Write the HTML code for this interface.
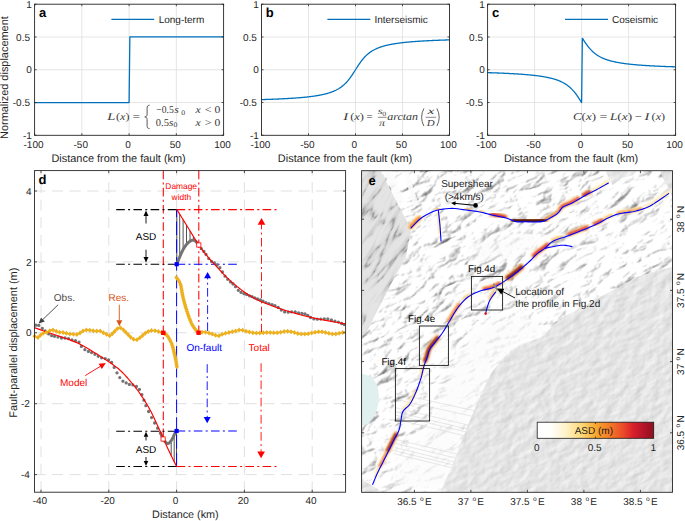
<!DOCTYPE html>
<html><head><meta charset="utf-8"><style>
html,body{margin:0;padding:0;background:#fff;width:685px;height:521px;overflow:hidden;}
svg{display:block;font-family:"Liberation Sans", sans-serif;text-rendering:geometricPrecision;}
</style></head><body>
<svg width="685" height="521" viewBox="0 0 685 521">
<rect width="685" height="521" fill="#fff"/>
<line x1="81.85" y1="4.2" x2="81.85" y2="135.3" stroke="#dedede" stroke-width="0.8" />
<line x1="129.1" y1="4.2" x2="129.1" y2="135.3" stroke="#dedede" stroke-width="0.8" />
<line x1="176.35" y1="4.2" x2="176.35" y2="135.3" stroke="#dedede" stroke-width="0.8" />
<line x1="34.6" y1="102.53" x2="223.6" y2="102.53" stroke="#dedede" stroke-width="0.8" />
<line x1="34.6" y1="69.75" x2="223.6" y2="69.75" stroke="#dedede" stroke-width="0.8" />
<line x1="34.6" y1="36.97" x2="223.6" y2="36.97" stroke="#dedede" stroke-width="0.8" />
<polyline points="34.6,102.53 129.1,102.53 129.86,36.97 223.6,36.97" stroke="#0072BD" stroke-width="1.3" fill="none" stroke-linejoin="round"/>
<line x1="111.4" y1="19.3" x2="154.2" y2="19.3" stroke="#0072BD" stroke-width="1.3" />
<text x="158.7" y="22.9" font-size="10" text-anchor="start" fill="#262626" font-weight="normal" font-style="normal" font-family='"Liberation Sans", sans-serif' >Long-term</text>
<line x1="34.6" y1="135.3" x2="34.6" y2="133.3" stroke="#262626" stroke-width="0.8" />
<line x1="34.6" y1="4.2" x2="34.6" y2="6.2" stroke="#262626" stroke-width="0.8" />
<line x1="81.85" y1="135.3" x2="81.85" y2="133.3" stroke="#262626" stroke-width="0.8" />
<line x1="81.85" y1="4.2" x2="81.85" y2="6.2" stroke="#262626" stroke-width="0.8" />
<line x1="129.1" y1="135.3" x2="129.1" y2="133.3" stroke="#262626" stroke-width="0.8" />
<line x1="129.1" y1="4.2" x2="129.1" y2="6.2" stroke="#262626" stroke-width="0.8" />
<line x1="176.35" y1="135.3" x2="176.35" y2="133.3" stroke="#262626" stroke-width="0.8" />
<line x1="176.35" y1="4.2" x2="176.35" y2="6.2" stroke="#262626" stroke-width="0.8" />
<line x1="223.6" y1="135.3" x2="223.6" y2="133.3" stroke="#262626" stroke-width="0.8" />
<line x1="223.6" y1="4.2" x2="223.6" y2="6.2" stroke="#262626" stroke-width="0.8" />
<line x1="34.6" y1="135.3" x2="36.6" y2="135.3" stroke="#262626" stroke-width="0.8" />
<line x1="223.6" y1="135.3" x2="221.6" y2="135.3" stroke="#262626" stroke-width="0.8" />
<line x1="34.6" y1="102.53" x2="36.6" y2="102.53" stroke="#262626" stroke-width="0.8" />
<line x1="223.6" y1="102.53" x2="221.6" y2="102.53" stroke="#262626" stroke-width="0.8" />
<line x1="34.6" y1="69.75" x2="36.6" y2="69.75" stroke="#262626" stroke-width="0.8" />
<line x1="223.6" y1="69.75" x2="221.6" y2="69.75" stroke="#262626" stroke-width="0.8" />
<line x1="34.6" y1="36.97" x2="36.6" y2="36.97" stroke="#262626" stroke-width="0.8" />
<line x1="223.6" y1="36.97" x2="221.6" y2="36.97" stroke="#262626" stroke-width="0.8" />
<line x1="34.6" y1="4.2" x2="36.6" y2="4.2" stroke="#262626" stroke-width="0.8" />
<line x1="223.6" y1="4.2" x2="221.6" y2="4.2" stroke="#262626" stroke-width="0.8" />
<rect x="34.6" y="4.2" width="189" height="131.1" fill="none" stroke="#262626" stroke-width="0.9"/>
<text x="31.9" y="7.8" font-size="10" text-anchor="end" fill="#262626" font-weight="normal" font-style="normal" font-family='"Liberation Sans", sans-serif' >1</text>
<text x="30" y="40.57" font-size="10" text-anchor="end" fill="#262626" font-weight="normal" font-style="normal" font-family='"Liberation Sans", sans-serif' >0.5</text>
<text x="31.9" y="73.35" font-size="10" text-anchor="end" fill="#262626" font-weight="normal" font-style="normal" font-family='"Liberation Sans", sans-serif' >0</text>
<text x="30" y="106.12" font-size="10" text-anchor="end" fill="#262626" font-weight="normal" font-style="normal" font-family='"Liberation Sans", sans-serif' >-0.5</text>
<text x="31.9" y="138.9" font-size="10" text-anchor="end" fill="#262626" font-weight="normal" font-style="normal" font-family='"Liberation Sans", sans-serif' >-1</text>
<text x="33.5" y="147.8" font-size="10" text-anchor="middle" fill="#262626" font-weight="normal" font-style="normal" font-family='"Liberation Sans", sans-serif' >-100</text>
<text x="80.75" y="147.8" font-size="10" text-anchor="middle" fill="#262626" font-weight="normal" font-style="normal" font-family='"Liberation Sans", sans-serif' >-50</text>
<text x="128" y="147.8" font-size="10" text-anchor="middle" fill="#262626" font-weight="normal" font-style="normal" font-family='"Liberation Sans", sans-serif' >0</text>
<text x="175.25" y="147.8" font-size="10" text-anchor="middle" fill="#262626" font-weight="normal" font-style="normal" font-family='"Liberation Sans", sans-serif' >50</text>
<text x="222.5" y="147.8" font-size="10" text-anchor="middle" fill="#262626" font-weight="normal" font-style="normal" font-family='"Liberation Sans", sans-serif' >100</text>
<text x="38.9" y="16.8" font-size="13" text-anchor="start" fill="#000" font-weight="bold" font-style="normal" font-family='"Liberation Sans", sans-serif' >a</text>
<text x="118.6" y="161.9" font-size="10.95" text-anchor="middle" fill="#262626" font-weight="normal" font-style="normal" font-family='"Liberation Sans", sans-serif' >Distance from the fault (km)</text>
<line x1="308.5" y1="4.2" x2="308.5" y2="135.3" stroke="#dedede" stroke-width="0.8" />
<line x1="355.5" y1="4.2" x2="355.5" y2="135.3" stroke="#dedede" stroke-width="0.8" />
<line x1="402.5" y1="4.2" x2="402.5" y2="135.3" stroke="#dedede" stroke-width="0.8" />
<line x1="261.5" y1="102.53" x2="449.5" y2="102.53" stroke="#dedede" stroke-width="0.8" />
<line x1="261.5" y1="69.75" x2="449.5" y2="69.75" stroke="#dedede" stroke-width="0.8" />
<line x1="261.5" y1="36.97" x2="449.5" y2="36.97" stroke="#dedede" stroke-width="0.8" />
<polyline points="261.5,99.62 261.97,99.61 262.44,99.59 262.91,99.58 263.38,99.56 263.85,99.55 264.32,99.53 264.79,99.52 265.26,99.5 265.73,99.49 266.2,99.47 266.67,99.46 267.14,99.44 267.61,99.42 268.08,99.41 268.55,99.39 269.02,99.37 269.49,99.36 269.96,99.34 270.43,99.32 270.9,99.31 271.37,99.29 271.84,99.27 272.31,99.25 272.78,99.23 273.25,99.21 273.72,99.2 274.19,99.18 274.66,99.16 275.13,99.14 275.6,99.12 276.07,99.1 276.54,99.08 277.01,99.06 277.48,99.04 277.95,99.02 278.42,99 278.89,98.98 279.36,98.95 279.83,98.93 280.3,98.91 280.77,98.89 281.24,98.87 281.71,98.84 282.18,98.82 282.65,98.8 283.12,98.77 283.59,98.75 284.06,98.72 284.53,98.7 285,98.67 285.47,98.65 285.94,98.62 286.41,98.6 286.88,98.57 287.35,98.54 287.82,98.52 288.29,98.49 288.76,98.46 289.23,98.43 289.7,98.41 290.17,98.38 290.64,98.35 291.11,98.32 291.58,98.29 292.05,98.26 292.52,98.23 292.99,98.2 293.46,98.16 293.93,98.13 294.4,98.1 294.87,98.07 295.34,98.03 295.81,98 296.28,97.96 296.75,97.93 297.22,97.89 297.69,97.85 298.16,97.82 298.63,97.78 299.1,97.74 299.57,97.7 300.04,97.66 300.51,97.62 300.98,97.58 301.45,97.54 301.92,97.5 302.39,97.46 302.86,97.41 303.33,97.37 303.8,97.32 304.27,97.28 304.74,97.23 305.21,97.18 305.68,97.14 306.15,97.09 306.62,97.04 307.09,96.99 307.56,96.93 308.03,96.88 308.5,96.83 308.97,96.77 309.44,96.72 309.91,96.66 310.38,96.6 310.85,96.54 311.32,96.48 311.79,96.42 312.26,96.36 312.73,96.3 313.2,96.23 313.67,96.17 314.14,96.1 314.61,96.03 315.08,95.96 315.55,95.89 316.02,95.81 316.49,95.74 316.96,95.66 317.43,95.58 317.9,95.5 318.37,95.42 318.84,95.33 319.31,95.25 319.78,95.16 320.25,95.07 320.72,94.98 321.19,94.88 321.66,94.79 322.13,94.69 322.6,94.59 323.07,94.48 323.54,94.37 324.01,94.27 324.48,94.15 324.95,94.04 325.42,93.92 325.89,93.8 326.36,93.67 326.83,93.55 327.3,93.41 327.77,93.28 328.24,93.14 328.71,93 329.18,92.85 329.65,92.7 330.12,92.54 330.59,92.38 331.06,92.22 331.53,92.05 332,91.87 332.47,91.69 332.94,91.51 333.41,91.31 333.88,91.12 334.35,90.91 334.82,90.7 335.29,90.48 335.76,90.26 336.23,90.02 336.7,89.78 337.17,89.53 337.64,89.28 338.11,89.01 338.58,88.73 339.05,88.45 339.52,88.15 339.99,87.84 340.46,87.53 340.93,87.2 341.4,86.86 341.87,86.5 342.34,86.14 342.81,85.76 343.28,85.37 343.75,84.96 344.22,84.54 344.69,84.1 345.16,83.65 345.63,83.18 346.1,82.69 346.57,82.19 347.04,81.67 347.51,81.14 347.98,80.58 348.45,80.01 348.92,79.42 349.39,78.82 349.86,78.2 350.33,77.56 350.8,76.91 351.27,76.24 351.74,75.56 352.21,74.86 352.68,74.15 353.15,73.44 353.62,72.71 354.09,71.98 354.56,71.24 355.03,70.49 355.5,69.75 355.97,69.01 356.44,68.26 356.91,67.52 357.38,66.79 357.85,66.06 358.32,65.35 358.79,64.64 359.26,63.94 359.73,63.26 360.2,62.59 360.67,61.94 361.14,61.3 361.61,60.68 362.08,60.08 362.55,59.49 363.02,58.92 363.49,58.36 363.96,57.83 364.43,57.31 364.9,56.81 365.37,56.32 365.84,55.85 366.31,55.4 366.78,54.96 367.25,54.54 367.72,54.13 368.19,53.74 368.66,53.36 369.13,53 369.6,52.64 370.07,52.3 370.54,51.97 371.01,51.66 371.48,51.35 371.95,51.05 372.42,50.77 372.89,50.49 373.36,50.22 373.83,49.97 374.3,49.72 374.77,49.48 375.24,49.24 375.71,49.02 376.18,48.8 376.65,48.59 377.12,48.38 377.59,48.19 378.06,47.99 378.53,47.81 379,47.63 379.47,47.45 379.94,47.28 380.41,47.12 380.88,46.96 381.35,46.8 381.82,46.65 382.29,46.5 382.76,46.36 383.23,46.22 383.7,46.09 384.17,45.95 384.64,45.83 385.11,45.7 385.58,45.58 386.05,45.46 386.52,45.35 386.99,45.23 387.46,45.13 387.93,45.02 388.4,44.91 388.87,44.81 389.34,44.71 389.81,44.62 390.28,44.52 390.75,44.43 391.22,44.34 391.69,44.25 392.16,44.17 392.63,44.08 393.1,44 393.57,43.92 394.04,43.84 394.51,43.76 394.98,43.69 395.45,43.61 395.92,43.54 396.39,43.47 396.86,43.4 397.33,43.33 397.8,43.27 398.27,43.2 398.74,43.14 399.21,43.08 399.68,43.02 400.15,42.96 400.62,42.9 401.09,42.84 401.56,42.78 402.03,42.73 402.5,42.67 402.97,42.62 403.44,42.57 403.91,42.51 404.38,42.46 404.85,42.41 405.32,42.36 405.79,42.32 406.26,42.27 406.73,42.22 407.2,42.18 407.67,42.13 408.14,42.09 408.61,42.04 409.08,42 409.55,41.96 410.02,41.92 410.49,41.88 410.96,41.84 411.43,41.8 411.9,41.76 412.37,41.72 412.84,41.68 413.31,41.65 413.78,41.61 414.25,41.57 414.72,41.54 415.19,41.5 415.66,41.47 416.13,41.43 416.6,41.4 417.07,41.37 417.54,41.34 418.01,41.3 418.48,41.27 418.95,41.24 419.42,41.21 419.89,41.18 420.36,41.15 420.83,41.12 421.3,41.09 421.77,41.07 422.24,41.04 422.71,41.01 423.18,40.98 423.65,40.96 424.12,40.93 424.59,40.9 425.06,40.88 425.53,40.85 426,40.83 426.47,40.8 426.94,40.78 427.41,40.75 427.88,40.73 428.35,40.7 428.82,40.68 429.29,40.66 429.76,40.63 430.23,40.61 430.7,40.59 431.17,40.57 431.64,40.55 432.11,40.52 432.58,40.5 433.05,40.48 433.52,40.46 433.99,40.44 434.46,40.42 434.93,40.4 435.4,40.38 435.87,40.36 436.34,40.34 436.81,40.32 437.28,40.3 437.75,40.29 438.22,40.27 438.69,40.25 439.16,40.23 439.63,40.21 440.1,40.19 440.57,40.18 441.04,40.16 441.51,40.14 441.98,40.13 442.45,40.11 442.92,40.09 443.39,40.08 443.86,40.06 444.33,40.04 444.8,40.03 445.27,40.01 445.74,40 446.21,39.98 446.68,39.97 447.15,39.95 447.62,39.94 448.09,39.92 448.56,39.91 449.03,39.89 449.5,39.88" stroke="#0072BD" stroke-width="1.3" fill="none" stroke-linejoin="round"/>
<line x1="327.4" y1="19.3" x2="370.4" y2="19.3" stroke="#0072BD" stroke-width="1.3" />
<text x="374.4" y="22.9" font-size="10" text-anchor="start" fill="#262626" font-weight="normal" font-style="normal" font-family='"Liberation Sans", sans-serif' >Interseismic</text>
<line x1="261.5" y1="135.3" x2="261.5" y2="133.3" stroke="#262626" stroke-width="0.8" />
<line x1="261.5" y1="4.2" x2="261.5" y2="6.2" stroke="#262626" stroke-width="0.8" />
<line x1="308.5" y1="135.3" x2="308.5" y2="133.3" stroke="#262626" stroke-width="0.8" />
<line x1="308.5" y1="4.2" x2="308.5" y2="6.2" stroke="#262626" stroke-width="0.8" />
<line x1="355.5" y1="135.3" x2="355.5" y2="133.3" stroke="#262626" stroke-width="0.8" />
<line x1="355.5" y1="4.2" x2="355.5" y2="6.2" stroke="#262626" stroke-width="0.8" />
<line x1="402.5" y1="135.3" x2="402.5" y2="133.3" stroke="#262626" stroke-width="0.8" />
<line x1="402.5" y1="4.2" x2="402.5" y2="6.2" stroke="#262626" stroke-width="0.8" />
<line x1="449.5" y1="135.3" x2="449.5" y2="133.3" stroke="#262626" stroke-width="0.8" />
<line x1="449.5" y1="4.2" x2="449.5" y2="6.2" stroke="#262626" stroke-width="0.8" />
<line x1="261.5" y1="135.3" x2="263.5" y2="135.3" stroke="#262626" stroke-width="0.8" />
<line x1="449.5" y1="135.3" x2="447.5" y2="135.3" stroke="#262626" stroke-width="0.8" />
<line x1="261.5" y1="102.53" x2="263.5" y2="102.53" stroke="#262626" stroke-width="0.8" />
<line x1="449.5" y1="102.53" x2="447.5" y2="102.53" stroke="#262626" stroke-width="0.8" />
<line x1="261.5" y1="69.75" x2="263.5" y2="69.75" stroke="#262626" stroke-width="0.8" />
<line x1="449.5" y1="69.75" x2="447.5" y2="69.75" stroke="#262626" stroke-width="0.8" />
<line x1="261.5" y1="36.97" x2="263.5" y2="36.97" stroke="#262626" stroke-width="0.8" />
<line x1="449.5" y1="36.97" x2="447.5" y2="36.97" stroke="#262626" stroke-width="0.8" />
<line x1="261.5" y1="4.2" x2="263.5" y2="4.2" stroke="#262626" stroke-width="0.8" />
<line x1="449.5" y1="4.2" x2="447.5" y2="4.2" stroke="#262626" stroke-width="0.8" />
<rect x="261.5" y="4.2" width="188" height="131.1" fill="none" stroke="#262626" stroke-width="0.9"/>
<text x="258.8" y="7.8" font-size="10" text-anchor="end" fill="#262626" font-weight="normal" font-style="normal" font-family='"Liberation Sans", sans-serif' >1</text>
<text x="256.9" y="40.57" font-size="10" text-anchor="end" fill="#262626" font-weight="normal" font-style="normal" font-family='"Liberation Sans", sans-serif' >0.5</text>
<text x="258.8" y="73.35" font-size="10" text-anchor="end" fill="#262626" font-weight="normal" font-style="normal" font-family='"Liberation Sans", sans-serif' >0</text>
<text x="256.9" y="106.12" font-size="10" text-anchor="end" fill="#262626" font-weight="normal" font-style="normal" font-family='"Liberation Sans", sans-serif' >-0.5</text>
<text x="258.8" y="138.9" font-size="10" text-anchor="end" fill="#262626" font-weight="normal" font-style="normal" font-family='"Liberation Sans", sans-serif' >-1</text>
<text x="260.4" y="147.8" font-size="10" text-anchor="middle" fill="#262626" font-weight="normal" font-style="normal" font-family='"Liberation Sans", sans-serif' >-100</text>
<text x="307.4" y="147.8" font-size="10" text-anchor="middle" fill="#262626" font-weight="normal" font-style="normal" font-family='"Liberation Sans", sans-serif' >-50</text>
<text x="354.4" y="147.8" font-size="10" text-anchor="middle" fill="#262626" font-weight="normal" font-style="normal" font-family='"Liberation Sans", sans-serif' >0</text>
<text x="401.4" y="147.8" font-size="10" text-anchor="middle" fill="#262626" font-weight="normal" font-style="normal" font-family='"Liberation Sans", sans-serif' >50</text>
<text x="448.4" y="147.8" font-size="10" text-anchor="middle" fill="#262626" font-weight="normal" font-style="normal" font-family='"Liberation Sans", sans-serif' >100</text>
<text x="265.8" y="16.8" font-size="13" text-anchor="start" fill="#000" font-weight="bold" font-style="normal" font-family='"Liberation Sans", sans-serif' >b</text>
<text x="345" y="161.9" font-size="10.95" text-anchor="middle" fill="#262626" font-weight="normal" font-style="normal" font-family='"Liberation Sans", sans-serif' >Distance from the fault (km)</text>
<line x1="534.6" y1="4.2" x2="534.6" y2="135.3" stroke="#dedede" stroke-width="0.8" />
<line x1="581.6" y1="4.2" x2="581.6" y2="135.3" stroke="#dedede" stroke-width="0.8" />
<line x1="628.6" y1="4.2" x2="628.6" y2="135.3" stroke="#dedede" stroke-width="0.8" />
<line x1="487.6" y1="102.53" x2="675.6" y2="102.53" stroke="#dedede" stroke-width="0.8" />
<line x1="487.6" y1="69.75" x2="675.6" y2="69.75" stroke="#dedede" stroke-width="0.8" />
<line x1="487.6" y1="36.97" x2="675.6" y2="36.97" stroke="#dedede" stroke-width="0.8" />
<polyline points="487.6,72.65 488.07,72.67 488.54,72.68 489.01,72.7 489.48,72.71 489.95,72.73 490.42,72.74 490.89,72.76 491.36,72.77 491.83,72.79 492.3,72.8 492.77,72.82 493.24,72.83 493.71,72.85 494.18,72.87 494.65,72.88 495.12,72.9 495.59,72.92 496.06,72.94 496.53,72.95 497,72.97 497.47,72.99 497.94,73.01 498.41,73.02 498.88,73.04 499.35,73.06 499.82,73.08 500.29,73.1 500.76,73.12 501.23,73.14 501.7,73.16 502.17,73.18 502.64,73.2 503.11,73.22 503.58,73.24 504.05,73.26 504.52,73.28 504.99,73.3 505.46,73.32 505.93,73.34 506.4,73.36 506.87,73.39 507.34,73.41 507.81,73.43 508.28,73.46 508.75,73.48 509.22,73.5 509.69,73.53 510.16,73.55 510.63,73.58 511.1,73.6 511.57,73.63 512.04,73.65 512.51,73.68 512.98,73.7 513.45,73.73 513.92,73.76 514.39,73.78 514.86,73.81 515.33,73.84 515.8,73.87 516.27,73.9 516.74,73.93 517.21,73.96 517.68,73.99 518.15,74.02 518.62,74.05 519.09,74.08 519.56,74.11 520.03,74.14 520.5,74.18 520.97,74.21 521.44,74.24 521.91,74.28 522.38,74.31 522.85,74.35 523.32,74.38 523.79,74.42 524.26,74.46 524.73,74.49 525.2,74.53 525.67,74.57 526.14,74.61 526.61,74.65 527.08,74.69 527.55,74.73 528.02,74.78 528.49,74.82 528.96,74.86 529.43,74.91 529.9,74.95 530.37,75 530.84,75.04 531.31,75.09 531.78,75.14 532.25,75.19 532.72,75.24 533.19,75.29 533.66,75.34 534.13,75.39 534.6,75.45 535.07,75.5 535.54,75.56 536.01,75.61 536.48,75.67 536.95,75.73 537.42,75.79 537.89,75.85 538.36,75.91 538.83,75.98 539.3,76.04 539.77,76.11 540.24,76.18 540.71,76.25 541.18,76.32 541.65,76.39 542.12,76.46 542.59,76.54 543.06,76.62 543.53,76.69 544,76.77 544.47,76.86 544.94,76.94 545.41,77.03 545.88,77.12 546.35,77.21 546.82,77.3 547.29,77.39 547.76,77.49 548.23,77.59 548.7,77.69 549.17,77.79 549.64,77.9 550.11,78.01 550.58,78.12 551.05,78.24 551.52,78.36 551.99,78.48 552.46,78.6 552.93,78.73 553.4,78.86 553.87,79 554.34,79.13 554.81,79.28 555.28,79.42 555.75,79.58 556.22,79.73 556.69,79.89 557.16,80.06 557.63,80.23 558.1,80.4 558.57,80.58 559.04,80.77 559.51,80.96 559.98,81.16 560.45,81.36 560.92,81.57 561.39,81.79 561.86,82.02 562.33,82.25 562.8,82.49 563.27,82.74 563.74,83 564.21,83.27 564.68,83.54 565.15,83.83 565.62,84.12 566.09,84.43 566.56,84.75 567.03,85.08 567.5,85.42 567.97,85.77 568.44,86.14 568.91,86.52 569.38,86.91 569.85,87.32 570.32,87.74 570.79,88.18 571.26,88.63 571.73,89.1 572.2,89.58 572.67,90.09 573.14,90.6 573.61,91.14 574.08,91.69 574.55,92.26 575.02,92.85 575.49,93.46 575.96,94.08 576.43,94.71 576.9,95.37 577.37,96.04 577.84,96.72 578.31,97.41 578.78,98.12 579.25,98.84 579.72,99.56 580.19,100.3 580.66,101.04 581.13,101.78 581.6,102.53 582.35,38.29 582.54,38.46 583.01,39.2 583.48,39.94 583.95,40.66 584.42,41.38 584.89,42.09 585.36,42.78 585.83,43.46 586.3,44.13 586.77,44.79 587.24,45.42 587.71,46.04 588.18,46.65 588.65,47.24 589.12,47.81 589.59,48.36 590.06,48.9 590.53,49.41 591,49.92 591.47,50.4 591.94,50.87 592.41,51.32 592.88,51.76 593.35,52.18 593.82,52.59 594.29,52.98 594.76,53.36 595.23,53.73 595.7,54.08 596.17,54.42 596.64,54.75 597.11,55.07 597.58,55.38 598.05,55.67 598.52,55.96 598.99,56.23 599.46,56.5 599.93,56.76 600.4,57.01 600.87,57.25 601.34,57.48 601.81,57.71 602.28,57.93 602.75,58.14 603.22,58.34 603.69,58.54 604.16,58.73 604.63,58.92 605.1,59.1 605.57,59.27 606.04,59.44 606.51,59.61 606.98,59.77 607.45,59.92 607.92,60.08 608.39,60.22 608.86,60.37 609.33,60.5 609.8,60.64 610.27,60.77 610.74,60.9 611.21,61.02 611.68,61.14 612.15,61.26 612.62,61.38 613.09,61.49 613.56,61.6 614.03,61.71 614.5,61.81 614.97,61.91 615.44,62.01 615.91,62.11 616.38,62.2 616.85,62.29 617.32,62.38 617.79,62.47 618.26,62.56 618.73,62.64 619.2,62.73 619.67,62.81 620.14,62.88 620.61,62.96 621.08,63.04 621.55,63.11 622.02,63.18 622.49,63.25 622.96,63.32 623.43,63.39 623.9,63.46 624.37,63.52 624.84,63.59 625.31,63.65 625.78,63.71 626.25,63.77 626.72,63.83 627.19,63.89 627.66,63.94 628.13,64 628.6,64.05 629.07,64.11 629.54,64.16 630.01,64.21 630.48,64.26 630.95,64.31 631.42,64.36 631.89,64.41 632.36,64.46 632.83,64.5 633.3,64.55 633.77,64.59 634.24,64.64 634.71,64.68 635.18,64.72 635.65,64.77 636.12,64.81 636.59,64.85 637.06,64.89 637.53,64.93 638,64.97 638.47,65.01 638.94,65.04 639.41,65.08 639.88,65.12 640.35,65.15 640.82,65.19 641.29,65.22 641.76,65.26 642.23,65.29 642.7,65.32 643.17,65.36 643.64,65.39 644.11,65.42 644.58,65.45 645.05,65.48 645.52,65.51 645.99,65.54 646.46,65.57 646.93,65.6 647.4,65.63 647.87,65.66 648.34,65.69 648.81,65.72 649.28,65.74 649.75,65.77 650.22,65.8 650.69,65.82 651.16,65.85 651.63,65.87 652.1,65.9 652.57,65.92 653.04,65.95 653.51,65.97 653.98,66 654.45,66.02 654.92,66.04 655.39,66.07 655.86,66.09 656.33,66.11 656.8,66.14 657.27,66.16 657.74,66.18 658.21,66.2 658.68,66.22 659.15,66.24 659.62,66.26 660.09,66.28 660.56,66.3 661.03,66.32 661.5,66.34 661.97,66.36 662.44,66.38 662.91,66.4 663.38,66.42 663.85,66.44 664.32,66.46 664.79,66.48 665.26,66.49 665.73,66.51 666.2,66.53 666.67,66.55 667.14,66.56 667.61,66.58 668.08,66.6 668.55,66.62 669.02,66.63 669.49,66.65 669.96,66.67 670.43,66.68 670.9,66.7 671.37,66.71 671.84,66.73 672.31,66.74 672.78,66.76 673.25,66.77 673.72,66.79 674.19,66.8 674.66,66.82 675.13,66.83 675.6,66.85" stroke="#0072BD" stroke-width="1.3" fill="none" stroke-linejoin="round"/>
<line x1="565" y1="19.3" x2="608" y2="19.3" stroke="#0072BD" stroke-width="1.3" />
<text x="612" y="22.9" font-size="10" text-anchor="start" fill="#262626" font-weight="normal" font-style="normal" font-family='"Liberation Sans", sans-serif' >Coseismic</text>
<line x1="487.6" y1="135.3" x2="487.6" y2="133.3" stroke="#262626" stroke-width="0.8" />
<line x1="487.6" y1="4.2" x2="487.6" y2="6.2" stroke="#262626" stroke-width="0.8" />
<line x1="534.6" y1="135.3" x2="534.6" y2="133.3" stroke="#262626" stroke-width="0.8" />
<line x1="534.6" y1="4.2" x2="534.6" y2="6.2" stroke="#262626" stroke-width="0.8" />
<line x1="581.6" y1="135.3" x2="581.6" y2="133.3" stroke="#262626" stroke-width="0.8" />
<line x1="581.6" y1="4.2" x2="581.6" y2="6.2" stroke="#262626" stroke-width="0.8" />
<line x1="628.6" y1="135.3" x2="628.6" y2="133.3" stroke="#262626" stroke-width="0.8" />
<line x1="628.6" y1="4.2" x2="628.6" y2="6.2" stroke="#262626" stroke-width="0.8" />
<line x1="675.6" y1="135.3" x2="675.6" y2="133.3" stroke="#262626" stroke-width="0.8" />
<line x1="675.6" y1="4.2" x2="675.6" y2="6.2" stroke="#262626" stroke-width="0.8" />
<line x1="487.6" y1="135.3" x2="489.6" y2="135.3" stroke="#262626" stroke-width="0.8" />
<line x1="675.6" y1="135.3" x2="673.6" y2="135.3" stroke="#262626" stroke-width="0.8" />
<line x1="487.6" y1="102.53" x2="489.6" y2="102.53" stroke="#262626" stroke-width="0.8" />
<line x1="675.6" y1="102.53" x2="673.6" y2="102.53" stroke="#262626" stroke-width="0.8" />
<line x1="487.6" y1="69.75" x2="489.6" y2="69.75" stroke="#262626" stroke-width="0.8" />
<line x1="675.6" y1="69.75" x2="673.6" y2="69.75" stroke="#262626" stroke-width="0.8" />
<line x1="487.6" y1="36.97" x2="489.6" y2="36.97" stroke="#262626" stroke-width="0.8" />
<line x1="675.6" y1="36.97" x2="673.6" y2="36.97" stroke="#262626" stroke-width="0.8" />
<line x1="487.6" y1="4.2" x2="489.6" y2="4.2" stroke="#262626" stroke-width="0.8" />
<line x1="675.6" y1="4.2" x2="673.6" y2="4.2" stroke="#262626" stroke-width="0.8" />
<rect x="487.6" y="4.2" width="188" height="131.1" fill="none" stroke="#262626" stroke-width="0.9"/>
<text x="484.9" y="7.8" font-size="10" text-anchor="end" fill="#262626" font-weight="normal" font-style="normal" font-family='"Liberation Sans", sans-serif' >1</text>
<text x="483" y="40.57" font-size="10" text-anchor="end" fill="#262626" font-weight="normal" font-style="normal" font-family='"Liberation Sans", sans-serif' >0.5</text>
<text x="484.9" y="73.35" font-size="10" text-anchor="end" fill="#262626" font-weight="normal" font-style="normal" font-family='"Liberation Sans", sans-serif' >0</text>
<text x="483" y="106.12" font-size="10" text-anchor="end" fill="#262626" font-weight="normal" font-style="normal" font-family='"Liberation Sans", sans-serif' >-0.5</text>
<text x="484.9" y="138.9" font-size="10" text-anchor="end" fill="#262626" font-weight="normal" font-style="normal" font-family='"Liberation Sans", sans-serif' >-1</text>
<text x="486.5" y="147.8" font-size="10" text-anchor="middle" fill="#262626" font-weight="normal" font-style="normal" font-family='"Liberation Sans", sans-serif' >-100</text>
<text x="533.5" y="147.8" font-size="10" text-anchor="middle" fill="#262626" font-weight="normal" font-style="normal" font-family='"Liberation Sans", sans-serif' >-50</text>
<text x="580.5" y="147.8" font-size="10" text-anchor="middle" fill="#262626" font-weight="normal" font-style="normal" font-family='"Liberation Sans", sans-serif' >0</text>
<text x="627.5" y="147.8" font-size="10" text-anchor="middle" fill="#262626" font-weight="normal" font-style="normal" font-family='"Liberation Sans", sans-serif' >50</text>
<text x="674.5" y="147.8" font-size="10" text-anchor="middle" fill="#262626" font-weight="normal" font-style="normal" font-family='"Liberation Sans", sans-serif' >100</text>
<text x="491.9" y="16.8" font-size="13" text-anchor="start" fill="#000" font-weight="bold" font-style="normal" font-family='"Liberation Sans", sans-serif' >c</text>
<text x="571.1" y="161.9" font-size="10.95" text-anchor="middle" fill="#262626" font-weight="normal" font-style="normal" font-family='"Liberation Sans", sans-serif' >Distance from the fault (km)</text>
<text x="8.4" y="77.6" font-size="10.95" text-anchor="middle" fill="#262626" font-weight="normal" font-style="normal" font-family='"Liberation Sans", sans-serif' transform="rotate(-90 8.4 77.6)" >Normalized displacement</text>
<text x="107.3" y="120" font-size="10.5" font-style="italic" fill="#3a3a3a" font-family='"Liberation Serif", serif' textLength="8.1" lengthAdjust="spacingAndGlyphs">L</text>
<text x="116.1" y="120" font-size="10.5" font-style="normal" fill="#3a3a3a" font-family='"Liberation Serif", serif' textLength="13.4" lengthAdjust="spacingAndGlyphs">(<tspan font-style="italic">x</tspan>)</text>
<text x="132.6" y="120" font-size="10.5" font-style="normal" fill="#3a3a3a" font-family='"Liberation Serif", serif' textLength="7.6" lengthAdjust="spacingAndGlyphs">=</text>
<path d="M149.6 105.2 C147.4 105.4 147.1 106.4 147.1 108.2 L147.1 114.2 C147.1 116 146.3 116.8 144.8 116.9 C146.3 117.0 147.1 117.8 147.1 119.6 L147.1 125.6 C147.1 127.4 147.4 128.4 149.6 128.6" fill="none" stroke="#3a3a3a" stroke-width="0.85"/>
<text x="156.3" y="113.4" font-size="10.5" font-style="normal" fill="#3a3a3a" font-family='"Liberation Serif", serif' textLength="17.5" lengthAdjust="spacingAndGlyphs">&#8722;0.5</text>
<text x="174.2" y="113.4" font-size="10.5" font-style="italic" fill="#3a3a3a" font-family='"Liberation Serif", serif' textLength="4.6" lengthAdjust="spacingAndGlyphs">s</text>
<text x="181.3" y="114.9" font-size="7" font-style="normal" fill="#3a3a3a" font-family='"Liberation Serif", serif' textLength="3.9" lengthAdjust="spacingAndGlyphs">0</text>
<text x="195.6" y="113.4" font-size="10.5" font-style="italic" fill="#3a3a3a" font-family='"Liberation Serif", serif' textLength="5.2" lengthAdjust="spacingAndGlyphs">x</text>
<text x="204.8" y="113.4" font-size="10.5" font-style="normal" fill="#3a3a3a" font-family='"Liberation Serif", serif' textLength="6.8" lengthAdjust="spacingAndGlyphs">&lt;</text>
<text x="214.5" y="113.4" font-size="10.5" font-style="normal" fill="#3a3a3a" font-family='"Liberation Serif", serif' textLength="5.8" lengthAdjust="spacingAndGlyphs">0</text>
<text x="155.8" y="125.5" font-size="10.5" font-style="normal" fill="#3a3a3a" font-family='"Liberation Serif", serif' textLength="13.1" lengthAdjust="spacingAndGlyphs">0.5</text>
<text x="169.1" y="125.5" font-size="10.5" font-style="italic" fill="#3a3a3a" font-family='"Liberation Serif", serif' textLength="4.4" lengthAdjust="spacingAndGlyphs">s</text>
<text x="173.4" y="127" font-size="7" font-style="normal" fill="#3a3a3a" font-family='"Liberation Serif", serif' textLength="3.9" lengthAdjust="spacingAndGlyphs">0</text>
<text x="195.6" y="125.5" font-size="10.5" font-style="italic" fill="#3a3a3a" font-family='"Liberation Serif", serif' textLength="5.2" lengthAdjust="spacingAndGlyphs">x</text>
<text x="204.8" y="125.5" font-size="10.5" font-style="normal" fill="#3a3a3a" font-family='"Liberation Serif", serif' textLength="6.8" lengthAdjust="spacingAndGlyphs">&gt;</text>
<text x="214.5" y="125.5" font-size="10.5" font-style="normal" fill="#3a3a3a" font-family='"Liberation Serif", serif' textLength="5.8" lengthAdjust="spacingAndGlyphs">0</text>
<text x="343.3" y="119.7" font-size="10.5" font-style="italic" fill="#3a3a3a" font-family='"Liberation Serif", serif' textLength="5" lengthAdjust="spacingAndGlyphs">I</text>
<text x="350.2" y="119.7" font-size="10.5" font-style="normal" fill="#3a3a3a" font-family='"Liberation Serif", serif' textLength="13.8" lengthAdjust="spacingAndGlyphs">(<tspan font-style="italic">x</tspan>)</text>
<text x="366.6" y="119.7" font-size="10.5" font-style="normal" fill="#3a3a3a" font-family='"Liberation Serif", serif' textLength="6.2" lengthAdjust="spacingAndGlyphs">=</text>
<text x="377.8" y="114.2" font-size="9" font-style="italic" fill="#3a3a3a" font-family='"Liberation Serif", serif' textLength="4.9" lengthAdjust="spacingAndGlyphs">s</text>
<text x="382.3" y="115.6" font-size="6.5" font-style="normal" fill="#3a3a3a" font-family='"Liberation Serif", serif' textLength="4" lengthAdjust="spacingAndGlyphs">0</text>
<line x1="377.8" y1="117.3" x2="386.6" y2="117.3" stroke="#3a3a3a" stroke-width="0.6" />
<text x="379.1" y="126.1" font-size="9.5" font-style="italic" fill="#3a3a3a" font-family='"Liberation Serif", serif' textLength="6.1" lengthAdjust="spacingAndGlyphs">&#960;</text>
<text x="387.2" y="119.7" font-size="10.5" font-style="italic" fill="#3a3a3a" font-family='"Liberation Serif", serif' textLength="30.9" lengthAdjust="spacingAndGlyphs">arctan</text>
<path d="M423.9 108.4 Q419.3 117.25 423.9 126.1" fill="none" stroke="#3a3a3a" stroke-width="0.8"/>
<path d="M436.9 108.4 Q441.5 117.25 436.9 126.1" fill="none" stroke="#3a3a3a" stroke-width="0.8"/>
<text x="427.6" y="114.4" font-size="9.5" font-style="italic" fill="#3a3a3a" font-family='"Liberation Serif", serif' textLength="6.9" lengthAdjust="spacingAndGlyphs">x</text>
<line x1="425.5" y1="117.3" x2="436.1" y2="117.3" stroke="#3a3a3a" stroke-width="0.6" />
<text x="426.8" y="126.1" font-size="9" font-style="italic" fill="#3a3a3a" font-family='"Liberation Serif", serif' textLength="7.9" lengthAdjust="spacingAndGlyphs">D</text>
<text x="572.9" y="120.2" font-size="10.5" font-style="italic" fill="#3a3a3a" font-family='"Liberation Serif", serif' textLength="8.7" lengthAdjust="spacingAndGlyphs">C</text>
<text x="581.6" y="120.2" font-size="10.5" font-style="normal" fill="#3a3a3a" font-family='"Liberation Serif", serif' textLength="14.4" lengthAdjust="spacingAndGlyphs">(<tspan font-style="italic">x</tspan>)</text>
<text x="599.4" y="120.2" font-size="10.5" font-style="normal" fill="#3a3a3a" font-family='"Liberation Serif", serif' textLength="7.9" lengthAdjust="spacingAndGlyphs">=</text>
<text x="609.9" y="120.2" font-size="10.5" font-style="italic" fill="#3a3a3a" font-family='"Liberation Serif", serif' textLength="7.4" lengthAdjust="spacingAndGlyphs">L</text>
<text x="617.3" y="120.2" font-size="10.5" font-style="normal" fill="#3a3a3a" font-family='"Liberation Serif", serif' textLength="14.8" lengthAdjust="spacingAndGlyphs">(<tspan font-style="italic">x</tspan>)</text>
<text x="634.7" y="120.2" font-size="10.5" font-style="normal" fill="#3a3a3a" font-family='"Liberation Serif", serif' textLength="7.1" lengthAdjust="spacingAndGlyphs">&#8722;</text>
<text x="644.4" y="120.2" font-size="10.5" font-style="italic" fill="#3a3a3a" font-family='"Liberation Serif", serif' textLength="4.9" lengthAdjust="spacingAndGlyphs">I</text>
<text x="651.6" y="120.2" font-size="10.5" font-style="normal" fill="#3a3a3a" font-family='"Liberation Serif", serif' textLength="13.5" lengthAdjust="spacingAndGlyphs">(<tspan font-style="italic">x</tspan>)</text>
<line x1="41" y1="492.2" x2="41" y2="170.6" stroke="#dcdcdc" stroke-width="0.9" stroke-dasharray="11 6.6" />
<line x1="108.8" y1="492.2" x2="108.8" y2="170.6" stroke="#dcdcdc" stroke-width="0.9" stroke-dasharray="11 6.6" />
<line x1="176.6" y1="492.2" x2="176.6" y2="170.6" stroke="#dcdcdc" stroke-width="0.9" stroke-dasharray="11 6.6" />
<line x1="244.4" y1="492.2" x2="244.4" y2="170.6" stroke="#dcdcdc" stroke-width="0.9" stroke-dasharray="11 6.6" />
<line x1="312.2" y1="492.2" x2="312.2" y2="170.6" stroke="#dcdcdc" stroke-width="0.9" stroke-dasharray="11 6.6" />
<line x1="34.5" y1="474.6" x2="345.6" y2="474.6" stroke="#dcdcdc" stroke-width="0.9" stroke-dasharray="11 6.6" />
<line x1="34.5" y1="403.7" x2="345.6" y2="403.7" stroke="#dcdcdc" stroke-width="0.9" stroke-dasharray="11 6.6" />
<line x1="34.5" y1="332.8" x2="345.6" y2="332.8" stroke="#dcdcdc" stroke-width="0.9" stroke-dasharray="11 6.6" />
<line x1="34.5" y1="261.9" x2="345.6" y2="261.9" stroke="#dcdcdc" stroke-width="0.9" stroke-dasharray="11 6.6" />
<line x1="34.5" y1="191" x2="345.6" y2="191" stroke="#dcdcdc" stroke-width="0.9" stroke-dasharray="11 6.6" />
<line x1="163.3" y1="170.6" x2="163.3" y2="437" stroke="#ff0000" stroke-width="1.05" stroke-dasharray="8.6 3.3 2 3.3" />
<line x1="198.8" y1="170.6" x2="198.8" y2="331" stroke="#ff0000" stroke-width="1.05" stroke-dasharray="8.6 3.3 2 3.3" />
<line x1="116.2" y1="209.6" x2="176.6" y2="209.6" stroke="#000" stroke-width="1.05" stroke-dasharray="8.6 3.3 2 3.3" />
<line x1="116.2" y1="264.3" x2="176.6" y2="264.3" stroke="#000" stroke-width="1.05" stroke-dasharray="8.6 3.3 2 3.3" />
<line x1="116.2" y1="431.2" x2="176.6" y2="431.2" stroke="#000" stroke-width="1.05" stroke-dasharray="8.6 3.3 2 3.3" />
<line x1="116.2" y1="466.4" x2="176.6" y2="466.4" stroke="#000" stroke-width="1.05" stroke-dasharray="8.6 3.3 2 3.3" />
<line x1="176.6" y1="209.6" x2="278.8" y2="209.6" stroke="#ff0000" stroke-width="1.05" stroke-dasharray="8.6 3.3 2 3.3" />
<line x1="176.6" y1="466.4" x2="278.8" y2="466.4" stroke="#ff0000" stroke-width="1.05" stroke-dasharray="8.6 3.3 2 3.3" />
<line x1="176.6" y1="264.3" x2="237.5" y2="264.3" stroke="#0000ff" stroke-width="1.05" stroke-dasharray="8.6 3.3 2 3.3" />
<line x1="176.6" y1="431" x2="238" y2="431" stroke="#0000ff" stroke-width="1.05" stroke-dasharray="8.6 3.3 2 3.3" />
<line x1="146" y1="223.5" x2="146" y2="215.6" stroke="#000" stroke-width="0.9" />
<polygon points="146,210.6 148.5,216.1 143.5,216.1" fill="#000"/>
<line x1="146" y1="249.7" x2="146" y2="257.6" stroke="#000" stroke-width="0.9" />
<polygon points="146,262.6 143.5,257.1 148.5,257.1" fill="#000"/>
<line x1="146" y1="440.5" x2="146" y2="436.3" stroke="#000" stroke-width="0.9" />
<polygon points="146,431.8 148.3,436.8 143.7,436.8" fill="#000"/>
<line x1="146" y1="457" x2="146" y2="461.4" stroke="#000" stroke-width="0.9" />
<polygon points="146,465.9 143.7,460.9 148.3,460.9" fill="#000"/>
<text x="146" y="240.2" font-size="10" text-anchor="middle" fill="#000" font-weight="normal" font-style="normal" font-family='"Liberation Sans", sans-serif' >ASD</text>
<text x="146" y="452.7" font-size="10" text-anchor="middle" fill="#000" font-weight="normal" font-style="normal" font-family='"Liberation Sans", sans-serif' >ASD</text>
<line x1="207.6" y1="331" x2="207.6" y2="277.7" stroke="#0000ff" stroke-width="0.9" stroke-dasharray="8.6 3.3 2 3.3" />
<polygon points="207.6,271.9 211.1,278.2 204.1,278.2" fill="#0000ff"/>
<line x1="207.2" y1="364.2" x2="207.2" y2="417.4" stroke="#0000ff" stroke-width="0.9" stroke-dasharray="8.6 3.3 2 3.3" />
<polygon points="207.2,423.2 203.7,416.9 210.7,416.9" fill="#0000ff"/>
<line x1="261.5" y1="332.5" x2="261.5" y2="224.3" stroke="#ff0000" stroke-width="0.9" stroke-dasharray="8.6 3.3 2 3.3" />
<polygon points="261.5,218 265.3,224.8 257.7,224.8" fill="#ff0000"/>
<line x1="261.1" y1="363.3" x2="261.1" y2="451.9" stroke="#ff0000" stroke-width="0.9" stroke-dasharray="8.6 3.3 2 3.3" />
<polygon points="261.1,458.2 257.3,451.4 264.9,451.4" fill="#ff0000"/>
<text x="186.4" y="351" font-size="10" text-anchor="start" fill="#0000ff" font-weight="normal" font-style="normal" font-family='"Liberation Sans", sans-serif' >On-fault</text>
<text x="248.6" y="351" font-size="10" text-anchor="start" fill="#ff0000" font-weight="normal" font-style="normal" font-family='"Liberation Sans", sans-serif' >Total</text>
<text x="181.2" y="189.2" font-size="8.4" text-anchor="middle" fill="#ff0000" font-weight="normal" font-style="normal" font-family='"Liberation Sans", sans-serif' >Damage</text>
<text x="181.4" y="199.6" font-size="8.4" text-anchor="middle" fill="#ff0000" font-weight="normal" font-style="normal" font-family='"Liberation Sans", sans-serif' >width</text>
<line x1="176.8" y1="209.5" x2="176.8" y2="263.7" stroke="#1a1a1a" stroke-width="0.75" />
<line x1="179.7" y1="214.18" x2="179.7" y2="256.99" stroke="#1a1a1a" stroke-width="0.75" />
<line x1="183.1" y1="219.67" x2="183.1" y2="249.7" stroke="#1a1a1a" stroke-width="0.75" />
<line x1="186.5" y1="225.15" x2="186.5" y2="244.5" stroke="#1a1a1a" stroke-width="0.75" />
<line x1="190" y1="230.8" x2="190" y2="241.33" stroke="#1a1a1a" stroke-width="0.75" />
<line x1="193.4" y1="236.29" x2="193.4" y2="240.37" stroke="#1a1a1a" stroke-width="0.75" />
<line x1="171.2" y1="440.36" x2="171.2" y2="455.6" stroke="#1a1a1a" stroke-width="0.75" />
<line x1="174.2" y1="434.86" x2="174.2" y2="461.6" stroke="#1a1a1a" stroke-width="0.75" />
<line x1="176.5" y1="431" x2="176.5" y2="466.4" stroke="#1a1a1a" stroke-width="0.75" />
<line x1="176.6" y1="466.4" x2="176.6" y2="209.6" stroke="#0000ff" stroke-width="1.0" stroke-dasharray="13.5 4.3" />
<path d="M34.15 325.2a1.65 1.65 0 1 0 3.3 0a1.65 1.65 0 1 0 -3.3 0zM37.15 325.4a1.65 1.65 0 1 0 3.3 0a1.65 1.65 0 1 0 -3.3 0zM40.65 328.4a1.65 1.65 0 1 0 3.3 0a1.65 1.65 0 1 0 -3.3 0zM43.55 331a1.65 1.65 0 1 0 3.3 0a1.65 1.65 0 1 0 -3.3 0zM47.05 333.9a1.65 1.65 0 1 0 3.3 0a1.65 1.65 0 1 0 -3.3 0zM49.95 335.7a1.65 1.65 0 1 0 3.3 0a1.65 1.65 0 1 0 -3.3 0zM52.85 336.3a1.65 1.65 0 1 0 3.3 0a1.65 1.65 0 1 0 -3.3 0zM56.35 337.1a1.65 1.65 0 1 0 3.3 0a1.65 1.65 0 1 0 -3.3 0zM59.85 338a1.65 1.65 0 1 0 3.3 0a1.65 1.65 0 1 0 -3.3 0zM63.35 338a1.65 1.65 0 1 0 3.3 0a1.65 1.65 0 1 0 -3.3 0zM66.85 338.6a1.65 1.65 0 1 0 3.3 0a1.65 1.65 0 1 0 -3.3 0zM70.35 339.8a1.65 1.65 0 1 0 3.3 0a1.65 1.65 0 1 0 -3.3 0zM73.85 340.6a1.65 1.65 0 1 0 3.3 0a1.65 1.65 0 1 0 -3.3 0zM77.35 342.1a1.65 1.65 0 1 0 3.3 0a1.65 1.65 0 1 0 -3.3 0zM79.75 346.4a1.65 1.65 0 1 0 3.3 0a1.65 1.65 0 1 0 -3.3 0zM83.25 349.7a1.65 1.65 0 1 0 3.3 0a1.65 1.65 0 1 0 -3.3 0zM86.75 351.4a1.65 1.65 0 1 0 3.3 0a1.65 1.65 0 1 0 -3.3 0zM89.95 352.6a1.65 1.65 0 1 0 3.3 0a1.65 1.65 0 1 0 -3.3 0zM93.25 354.3a1.65 1.65 0 1 0 3.3 0a1.65 1.65 0 1 0 -3.3 0zM96.55 356.3a1.65 1.65 0 1 0 3.3 0a1.65 1.65 0 1 0 -3.3 0zM99.95 357.8a1.65 1.65 0 1 0 3.3 0a1.65 1.65 0 1 0 -3.3 0zM103.55 358.6a1.65 1.65 0 1 0 3.3 0a1.65 1.65 0 1 0 -3.3 0zM106.95 359.8a1.65 1.65 0 1 0 3.3 0a1.65 1.65 0 1 0 -3.3 0zM109.95 362.4a1.65 1.65 0 1 0 3.3 0a1.65 1.65 0 1 0 -3.3 0zM112.55 367.4a1.65 1.65 0 1 0 3.3 0a1.65 1.65 0 1 0 -3.3 0zM115.35 372.8a1.65 1.65 0 1 0 3.3 0a1.65 1.65 0 1 0 -3.3 0zM118.15 377.6a1.65 1.65 0 1 0 3.3 0a1.65 1.65 0 1 0 -3.3 0zM121.25 381.2a1.65 1.65 0 1 0 3.3 0a1.65 1.65 0 1 0 -3.3 0zM124.55 382.9a1.65 1.65 0 1 0 3.3 0a1.65 1.65 0 1 0 -3.3 0zM127.75 384.4a1.65 1.65 0 1 0 3.3 0a1.65 1.65 0 1 0 -3.3 0zM131.25 384.9a1.65 1.65 0 1 0 3.3 0a1.65 1.65 0 1 0 -3.3 0zM134.75 386.5a1.65 1.65 0 1 0 3.3 0a1.65 1.65 0 1 0 -3.3 0zM137.75 389.4a1.65 1.65 0 1 0 3.3 0a1.65 1.65 0 1 0 -3.3 0zM140.25 394.6a1.65 1.65 0 1 0 3.3 0a1.65 1.65 0 1 0 -3.3 0zM142.25 400.2a1.65 1.65 0 1 0 3.3 0a1.65 1.65 0 1 0 -3.3 0zM144.25 405.7a1.65 1.65 0 1 0 3.3 0a1.65 1.65 0 1 0 -3.3 0zM146.95 411.5a1.65 1.65 0 1 0 3.3 0a1.65 1.65 0 1 0 -3.3 0zM149.95 417.6a1.65 1.65 0 1 0 3.3 0a1.65 1.65 0 1 0 -3.3 0zM152.95 423a1.65 1.65 0 1 0 3.3 0a1.65 1.65 0 1 0 -3.3 0zM155.95 428.2a1.65 1.65 0 1 0 3.3 0a1.65 1.65 0 1 0 -3.3 0zM158.75 433a1.65 1.65 0 1 0 3.3 0a1.65 1.65 0 1 0 -3.3 0zM199.65 248.7a1.65 1.65 0 1 0 3.3 0a1.65 1.65 0 1 0 -3.3 0zM202.25 251.5a1.65 1.65 0 1 0 3.3 0a1.65 1.65 0 1 0 -3.3 0zM204.35 254.4a1.65 1.65 0 1 0 3.3 0a1.65 1.65 0 1 0 -3.3 0zM207.05 258.6a1.65 1.65 0 1 0 3.3 0a1.65 1.65 0 1 0 -3.3 0zM209.85 261.4a1.65 1.65 0 1 0 3.3 0a1.65 1.65 0 1 0 -3.3 0zM212.75 262.9a1.65 1.65 0 1 0 3.3 0a1.65 1.65 0 1 0 -3.3 0zM215.55 265a1.65 1.65 0 1 0 3.3 0a1.65 1.65 0 1 0 -3.3 0zM218.25 267.7a1.65 1.65 0 1 0 3.3 0a1.65 1.65 0 1 0 -3.3 0zM220.75 272a1.65 1.65 0 1 0 3.3 0a1.65 1.65 0 1 0 -3.3 0zM223.35 276.2a1.65 1.65 0 1 0 3.3 0a1.65 1.65 0 1 0 -3.3 0zM226.05 279.3a1.65 1.65 0 1 0 3.3 0a1.65 1.65 0 1 0 -3.3 0zM228.85 281.9a1.65 1.65 0 1 0 3.3 0a1.65 1.65 0 1 0 -3.3 0zM231.35 284a1.65 1.65 0 1 0 3.3 0a1.65 1.65 0 1 0 -3.3 0zM233.85 286.7a1.65 1.65 0 1 0 3.3 0a1.65 1.65 0 1 0 -3.3 0zM236.65 290.3a1.65 1.65 0 1 0 3.3 0a1.65 1.65 0 1 0 -3.3 0zM239.35 292.4a1.65 1.65 0 1 0 3.3 0a1.65 1.65 0 1 0 -3.3 0zM242.35 293.7a1.65 1.65 0 1 0 3.3 0a1.65 1.65 0 1 0 -3.3 0zM245.05 294.5a1.65 1.65 0 1 0 3.3 0a1.65 1.65 0 1 0 -3.3 0zM247.85 295.8a1.65 1.65 0 1 0 3.3 0a1.65 1.65 0 1 0 -3.3 0zM250.35 296.7a1.65 1.65 0 1 0 3.3 0a1.65 1.65 0 1 0 -3.3 0zM253.05 297.9a1.65 1.65 0 1 0 3.3 0a1.65 1.65 0 1 0 -3.3 0zM255.85 299a1.65 1.65 0 1 0 3.3 0a1.65 1.65 0 1 0 -3.3 0zM258.75 299.8a1.65 1.65 0 1 0 3.3 0a1.65 1.65 0 1 0 -3.3 0zM261.35 301.1a1.65 1.65 0 1 0 3.3 0a1.65 1.65 0 1 0 -3.3 0zM264.25 302.6a1.65 1.65 0 1 0 3.3 0a1.65 1.65 0 1 0 -3.3 0zM267.25 303.6a1.65 1.65 0 1 0 3.3 0a1.65 1.65 0 1 0 -3.3 0zM270.35 304.7a1.65 1.65 0 1 0 3.3 0a1.65 1.65 0 1 0 -3.3 0zM273.35 305.7a1.65 1.65 0 1 0 3.3 0a1.65 1.65 0 1 0 -3.3 0zM276.55 307.5a1.65 1.65 0 1 0 3.3 0a1.65 1.65 0 1 0 -3.3 0zM279.65 310a1.65 1.65 0 1 0 3.3 0a1.65 1.65 0 1 0 -3.3 0zM282.95 311.9a1.65 1.65 0 1 0 3.3 0a1.65 1.65 0 1 0 -3.3 0zM286.55 312.2a1.65 1.65 0 1 0 3.3 0a1.65 1.65 0 1 0 -3.3 0zM290.05 311.9a1.65 1.65 0 1 0 3.3 0a1.65 1.65 0 1 0 -3.3 0zM293.55 311.9a1.65 1.65 0 1 0 3.3 0a1.65 1.65 0 1 0 -3.3 0zM296.95 312.8a1.65 1.65 0 1 0 3.3 0a1.65 1.65 0 1 0 -3.3 0zM300.25 313.4a1.65 1.65 0 1 0 3.3 0a1.65 1.65 0 1 0 -3.3 0zM303.35 314a1.65 1.65 0 1 0 3.3 0a1.65 1.65 0 1 0 -3.3 0zM306.15 315.4a1.65 1.65 0 1 0 3.3 0a1.65 1.65 0 1 0 -3.3 0zM308.95 317.5a1.65 1.65 0 1 0 3.3 0a1.65 1.65 0 1 0 -3.3 0zM312.15 318.9a1.65 1.65 0 1 0 3.3 0a1.65 1.65 0 1 0 -3.3 0zM315.65 319.2a1.65 1.65 0 1 0 3.3 0a1.65 1.65 0 1 0 -3.3 0zM319.15 319.1a1.65 1.65 0 1 0 3.3 0a1.65 1.65 0 1 0 -3.3 0zM322.65 318.8a1.65 1.65 0 1 0 3.3 0a1.65 1.65 0 1 0 -3.3 0zM326.15 318.9a1.65 1.65 0 1 0 3.3 0a1.65 1.65 0 1 0 -3.3 0zM329.75 320a1.65 1.65 0 1 0 3.3 0a1.65 1.65 0 1 0 -3.3 0zM333.25 321.2a1.65 1.65 0 1 0 3.3 0a1.65 1.65 0 1 0 -3.3 0zM336.75 322.1a1.65 1.65 0 1 0 3.3 0a1.65 1.65 0 1 0 -3.3 0zM339.95 323.5a1.65 1.65 0 1 0 3.3 0a1.65 1.65 0 1 0 -3.3 0zM342.55 324.6a1.65 1.65 0 1 0 3.3 0a1.65 1.65 0 1 0 -3.3 0z" fill="#737373"/>
<polyline points="161.1,434.3 161.32,434.83 161.61,435.59 161.96,436.48 162.34,437.4 162.73,438.27 163.1,439 163.45,439.59 163.81,440.11 164.17,440.59 164.54,441.02 164.91,441.42 165.3,441.8 165.7,442.19 166.11,442.57 166.53,442.93 166.96,443.23 167.38,443.43 167.8,443.5 168.22,443.44 168.63,443.27 169.05,443.01 169.47,442.66 169.88,442.26 170.3,441.8 170.72,441.27 171.15,440.64 171.58,439.96 172,439.23 172.41,438.5 172.8,437.8 173.17,437.09 173.51,436.36 173.85,435.61 174.17,434.89 174.49,434.21 174.8,433.6 175.12,433.04 175.45,432.52 175.78,432.04 176.07,431.61 176.32,431.26 176.5,431" stroke="#737373" stroke-width="3.0" fill="none" stroke-linecap="round" stroke-linejoin="round"/>
<polyline points="176.8,263.7 177.01,263.21 177.31,262.54 177.66,261.74 178.04,260.86 178.43,259.97 178.8,259.1 179.17,258.24 179.54,257.33 179.93,256.4 180.32,255.47 180.71,254.56 181.1,253.7 181.47,252.89 181.84,252.11 182.2,251.35 182.57,250.6 182.97,249.86 183.4,249.1 183.87,248.31 184.37,247.51 184.9,246.7 185.44,245.91 185.97,245.17 186.5,244.5 187.02,243.89 187.54,243.32 188.06,242.79 188.57,242.31 189.09,241.88 189.6,241.5 190.11,241.16 190.63,240.87 191.15,240.63 191.66,240.44 192.14,240.29 192.6,240.2 193.02,240.16 193.42,240.17 193.79,240.22 194.16,240.33 194.52,240.49 194.9,240.7 195.29,240.98 195.69,241.34 196.09,241.76 196.49,242.19 196.86,242.61 197.2,243 197.53,243.37 197.84,243.76 198.14,244.14 198.41,244.49 198.63,244.79 198.8,245" stroke="#737373" stroke-width="3.0" fill="none" stroke-linecap="round" stroke-linejoin="round"/>
<polyline points="176.8,209.5 178,211.42 179.65,214.09 181.61,217.24 183.73,220.64 185.84,224.04 187.8,227.2 189.66,230.23 191.54,233.36 193.43,236.48 195.29,239.52 197.09,242.39 198.8,245 200.4,247.31 201.92,249.39 203.38,251.29 204.81,253.08 206.24,254.83 207.7,256.6 209.17,258.35 210.62,260.03 212.07,261.66 213.54,263.27 215.05,264.91 216.6,266.6 218.21,268.36 219.86,270.17 221.55,271.99 223.26,273.81 224.98,275.59 226.7,277.3 228.43,278.95 230.17,280.56 231.92,282.13 233.68,283.66 235.44,285.15 237.2,286.6 238.96,288.01 240.73,289.38 242.5,290.71 244.27,292 246.04,293.23 247.8,294.4 249.54,295.51 251.26,296.55 252.98,297.54 254.71,298.49 256.48,299.41 258.3,300.3 260.18,301.16 262.11,301.97 264.08,302.76 266.06,303.51 268.04,304.26 270,305 271.95,305.74 273.9,306.46 275.85,307.17 277.8,307.86 279.75,308.54 281.7,309.2 283.65,309.84 285.6,310.46 287.56,311.06 289.51,311.65 291.46,312.23 293.4,312.8 295.34,313.36 297.27,313.92 299.2,314.46 301.13,314.99 303.06,315.51 305,316 306.94,316.47 308.89,316.92 310.84,317.36 312.8,317.78 314.75,318.19 316.7,318.6 318.59,318.99 320.4,319.36 322.21,319.73 324.09,320.09 326.13,320.48 328.4,320.9 331.15,321.39 334.36,321.96 337.73,322.54 340.94,323.1 343.67,323.57 345.6,323.9" stroke="#ff0000" stroke-width="1.15" fill="none" stroke-linejoin="round"/>
<polyline points="34.5,327.7 36.51,328.4 39.24,329.35 42.49,330.48 46.07,331.73 49.78,333.03 53.4,334.3 57.1,335.57 61.06,336.89 65.14,338.25 69.2,339.66 73.1,341.11 76.7,342.6 79.97,344.14 83.03,345.74 85.92,347.38 88.71,349.05 91.45,350.73 94.2,352.4 97,354.11 99.81,355.87 102.57,357.64 105.23,359.38 107.72,361.05 110,362.6 112,363.98 113.76,365.21 115.36,366.38 116.88,367.54 118.4,368.79 120,370.2 121.67,371.77 123.33,373.43 125,375.18 126.67,376.99 128.33,378.87 130,380.8 131.67,382.77 133.34,384.79 135.01,386.88 136.68,389.03 138.34,391.27 140,393.6 141.67,396.06 143.37,398.65 145.06,401.32 146.71,404.04 148.3,406.74 149.8,409.4 151.2,412.03 152.51,414.67 153.77,417.31 154.97,419.93 156.15,422.49 157.3,425 158.42,427.43 159.49,429.79 160.53,432.11 161.55,434.41 162.57,436.7 163.6,439 164.63,441.31 165.65,443.62 166.67,445.93 167.69,448.22 168.73,450.51 169.8,452.8 170.98,455.24 172.27,457.85 173.59,460.46 174.81,462.88 175.85,464.92 176.6,466.4" stroke="#ff0000" stroke-width="1.15" fill="none" stroke-linejoin="round"/>
<polyline points="34.6,336.3 34.99,336.47 35.54,336.76 36.18,337.07 36.87,337.33 37.56,337.47 38.2,337.4 38.79,337.06 39.37,336.49 39.96,335.79 40.54,335.06 41.12,334.4 41.7,333.9 42.28,333.58 42.87,333.37 43.45,333.22 44.03,333.1 44.62,332.97 45.2,332.8 45.78,332.59 46.37,332.36 46.95,332.13 47.53,331.89 48.12,331.65 48.7,331.4 49.28,331.11 49.87,330.78 50.45,330.44 51.03,330.13 51.62,329.91 52.2,329.8 52.78,329.84 53.37,329.99 53.95,330.23 54.53,330.5 55.12,330.77 55.7,331 56.28,331.21 56.87,331.44 57.45,331.66 58.03,331.87 58.62,332.06 59.2,332.2 59.78,332.28 60.37,332.31 60.95,332.32 61.53,332.32 62.12,332.34 62.7,332.4 63.28,332.51 63.87,332.66 64.45,332.82 65.03,333 65.62,333.16 66.2,333.3 66.78,333.42 67.37,333.53 67.95,333.63 68.53,333.73 69.12,333.82 69.7,333.9 70.28,333.98 70.87,334.06 71.45,334.12 72.03,334.19 72.62,334.25 73.2,334.3 73.78,334.37 74.37,334.45 74.95,334.53 75.53,334.58 76.12,334.58 76.7,334.5 77.29,334.33 77.89,334.08 78.49,333.78 79.08,333.44 79.65,333.11 80.2,332.8 80.72,332.5 81.21,332.17 81.68,331.85 82.15,331.54 82.62,331.25 83.1,331 83.59,330.79 84.07,330.6 84.56,330.44 85.06,330.3 85.57,330.19 86.1,330.1 86.65,330.04 87.23,330.01 87.82,330 88.41,330.01 89.01,330.05 89.6,330.1 90.18,330.18 90.77,330.3 91.35,330.44 91.93,330.58 92.52,330.7 93.1,330.8 93.68,330.86 94.27,330.91 94.86,330.94 95.44,330.97 96.02,330.98 96.6,331 97.17,330.99 97.73,330.95 98.29,330.9 98.86,330.87 99.42,330.9 100,331 100.59,331.2 101.19,331.47 101.79,331.79 102.4,332.14 103,332.48 103.6,332.8 104.2,333.09 104.8,333.39 105.39,333.69 105.98,333.97 106.55,334.25 107.1,334.5 107.62,334.77 108.11,335.08 108.58,335.38 109.05,335.61 109.52,335.73 110,335.7 110.49,335.48 110.97,335.12 111.46,334.64 111.96,334.1 112.47,333.54 113,333 113.56,332.44 114.15,331.83 114.75,331.2 115.35,330.58 115.94,330 116.5,329.5 117.02,329.05 117.52,328.61 118,328.21 118.48,327.89 118.98,327.68 119.5,327.6 120.05,327.67 120.61,327.87 121.19,328.18 121.78,328.57 122.38,329.02 123,329.5 123.64,330.05 124.3,330.68 124.97,331.37 125.65,332.09 126.33,332.81 127,333.5 127.67,334.19 128.35,334.91 129.03,335.62 129.7,336.31 130.36,336.95 131,337.5 131.62,337.97 132.22,338.39 132.81,338.75 133.39,339.06 133.95,339.31 134.5,339.5 135.02,339.64 135.52,339.74 136,339.78 136.48,339.76 136.98,339.67 137.5,339.5 138.05,339.24 138.61,338.89 139.19,338.47 139.78,338 140.38,337.5 141,337 141.64,336.46 142.3,335.87 142.97,335.25 143.65,334.63 144.33,334.04 145,333.5 145.67,333 146.33,332.52 147,332.06 147.67,331.65 148.33,331.29 149,331 149.67,330.79 150.33,330.65 151,330.56 151.67,330.52 152.33,330.5 153,330.5 153.68,330.52 154.37,330.57 155.06,330.66 155.74,330.76 156.39,330.88 157,331 157.55,331.14 158.06,331.3 158.54,331.48 159.01,331.66 159.49,331.84 160,332 160.57,332.15 161.2,332.31 161.84,332.46 162.43,332.6 162.94,332.72 163.3,332.8" stroke="#EDB120" stroke-width="1.5" fill="none" stroke-linejoin="round"/>
<path d="M34.6 333.8l2.1 2.5l-2.1 2.5l-2.1 -2.5zM37.86 334.94l2.1 2.5l-2.1 2.5l-2.1 -2.5zM40.42 332.7l2.1 2.5l-2.1 2.5l-2.1 -2.5zM43.24 330.77l2.1 2.5l-2.1 2.5l-2.1 -2.5zM46.59 329.78l2.1 2.5l-2.1 2.5l-2.1 -2.5zM49.77 328.33l2.1 2.5l-2.1 2.5l-2.1 -2.5zM53.03 327.4l2.1 2.5l-2.1 2.5l-2.1 -2.5zM56.27 328.71l2.1 2.5l-2.1 2.5l-2.1 -2.5zM59.6 329.76l2.1 2.5l-2.1 2.5l-2.1 -2.5zM63.08 329.97l2.1 2.5l-2.1 2.5l-2.1 -2.5zM66.47 330.86l2.1 2.5l-2.1 2.5l-2.1 -2.5zM69.92 331.43l2.1 2.5l-2.1 2.5l-2.1 -2.5zM73.4 331.82l2.1 2.5l-2.1 2.5l-2.1 -2.5zM76.87 331.95l2.1 2.5l-2.1 2.5l-2.1 -2.5zM80 330.41l2.1 2.5l-2.1 2.5l-2.1 -2.5zM82.97 328.57l2.1 2.5l-2.1 2.5l-2.1 -2.5zM86.31 327.58l2.1 2.5l-2.1 2.5l-2.1 -2.5zM89.8 327.63l2.1 2.5l-2.1 2.5l-2.1 -2.5zM93.23 328.31l2.1 2.5l-2.1 2.5l-2.1 -2.5zM96.73 328.5l2.1 2.5l-2.1 2.5l-2.1 -2.5zM100.2 328.57l2.1 2.5l-2.1 2.5l-2.1 -2.5zM103.32 330.15l2.1 2.5l-2.1 2.5l-2.1 -2.5zM106.45 331.7l2.1 2.5l-2.1 2.5l-2.1 -2.5zM109.58 333.23l2.1 2.5l-2.1 2.5l-2.1 -2.5zM112.31 331.22l2.1 2.5l-2.1 2.5l-2.1 -2.5zM114.74 328.71l2.1 2.5l-2.1 2.5l-2.1 -2.5zM117.29 326.31l2.1 2.5l-2.1 2.5l-2.1 -2.5zM120.4 325.3l2.1 2.5l-2.1 2.5l-2.1 -2.5zM123.29 327.25l2.1 2.5l-2.1 2.5l-2.1 -2.5zM125.77 329.72l2.1 2.5l-2.1 2.5l-2.1 -2.5zM128.19 332.24l2.1 2.5l-2.1 2.5l-2.1 -2.5zM130.67 334.71l2.1 2.5l-2.1 2.5l-2.1 -2.5zM133.57 336.64l2.1 2.5l-2.1 2.5l-2.1 -2.5zM136.97 337.17l2.1 2.5l-2.1 2.5l-2.1 -2.5zM139.93 335.37l2.1 2.5l-2.1 2.5l-2.1 -2.5zM142.59 333.1l2.1 2.5l-2.1 2.5l-2.1 -2.5zM145.25 330.82l2.1 2.5l-2.1 2.5l-2.1 -2.5zM148.16 328.88l2.1 2.5l-2.1 2.5l-2.1 -2.5zM151.52 328.03l2.1 2.5l-2.1 2.5l-2.1 -2.5zM155.01 328.15l2.1 2.5l-2.1 2.5l-2.1 -2.5zM158.42 328.93l2.1 2.5l-2.1 2.5l-2.1 -2.5zM161.76 329.94l2.1 2.5l-2.1 2.5l-2.1 -2.5z" fill="#EDB120"/>
<polyline points="198.6,332.7 199.25,332.62 200.15,332.48 201.22,332.33 202.36,332.2 203.48,332.11 204.5,332.1 205.43,332.18 206.35,332.33 207.26,332.52 208.14,332.74 208.99,332.97 209.8,333.2 210.56,333.43 211.28,333.68 211.97,333.94 212.64,334.21 213.31,334.46 214,334.7 214.7,334.95 215.4,335.23 216.1,335.5 216.8,335.73 217.5,335.87 218.2,335.9 218.87,335.78 219.52,335.55 220.16,335.23 220.84,334.87 221.57,334.52 222.4,334.2 223.34,333.91 224.37,333.62 225.47,333.33 226.59,333.04 227.71,332.77 228.8,332.5 229.87,332.25 230.94,332 232.02,331.76 233.08,331.53 234.11,331.31 235.1,331.1 236.04,330.87 236.94,330.63 237.81,330.39 238.67,330.19 239.53,330.05 240.4,330 241.27,330.05 242.13,330.19 242.99,330.39 243.86,330.63 244.76,330.87 245.7,331.1 246.69,331.32 247.73,331.57 248.79,331.83 249.86,332.07 250.94,332.3 252,332.5 253.05,332.67 254.1,332.84 255.14,332.98 256.19,333.1 257.24,333.17 258.3,333.2 259.36,333.16 260.43,333.04 261.5,332.89 262.57,332.73 263.64,332.59 264.7,332.5 265.77,332.45 266.86,332.43 267.95,332.43 269.01,332.44 270.04,332.46 271,332.5 271.87,332.57 272.67,332.69 273.42,332.81 274.17,332.93 274.95,333 275.8,333 276.72,332.92 277.69,332.77 278.69,332.57 279.7,332.37 280.71,332.17 281.7,332 282.67,331.85 283.64,331.69 284.6,331.53 285.56,331.4 286.53,331.32 287.5,331.3 288.48,331.35 289.46,331.46 290.45,331.61 291.44,331.79 292.42,331.99 293.4,332.2 294.37,332.44 295.34,332.73 296.31,333.04 297.27,333.34 298.23,333.6 299.2,333.8 300.17,333.94 301.13,334.04 302.09,334.11 303.06,334.14 304.03,334.13 305,334.1 305.98,334.02 306.96,333.9 307.95,333.74 308.94,333.57 309.92,333.38 310.9,333.2 311.87,333.01 312.84,332.79 313.8,332.56 314.76,332.34 315.73,332.15 316.7,332 317.68,331.89 318.66,331.8 319.65,331.74 320.64,331.71 321.62,331.73 322.6,331.8 323.57,331.95 324.54,332.17 325.51,332.43 326.47,332.71 327.43,332.98 328.4,333.2 329.37,333.4 330.33,333.61 331.29,333.81 332.26,333.97 333.23,334.07 334.2,334.1 335.19,334.03 336.19,333.88 337.19,333.67 338.18,333.43 339.16,333.2 340.1,333 341.07,332.82 342.08,332.62 343.07,332.43 343.98,332.26 344.74,332.11 345.3,332" stroke="#EDB120" stroke-width="1.5" fill="none" stroke-linejoin="round"/>
<path d="M198.6 330.2l2.1 2.5l-2.1 2.5l-2.1 -2.5zM202.07 329.73l2.1 2.5l-2.1 2.5l-2.1 -2.5zM205.56 329.7l2.1 2.5l-2.1 2.5l-2.1 -2.5zM208.97 330.47l2.1 2.5l-2.1 2.5l-2.1 -2.5zM212.29 331.57l2.1 2.5l-2.1 2.5l-2.1 -2.5zM215.57 332.79l2.1 2.5l-2.1 2.5l-2.1 -2.5zM218.96 333.25l2.1 2.5l-2.1 2.5l-2.1 -2.5zM222.14 331.8l2.1 2.5l-2.1 2.5l-2.1 -2.5zM225.5 330.82l2.1 2.5l-2.1 2.5l-2.1 -2.5zM228.9 329.98l2.1 2.5l-2.1 2.5l-2.1 -2.5zM232.31 329.2l2.1 2.5l-2.1 2.5l-2.1 -2.5zM235.73 328.45l2.1 2.5l-2.1 2.5l-2.1 -2.5zM239.13 327.62l2.1 2.5l-2.1 2.5l-2.1 -2.5zM242.59 327.8l2.1 2.5l-2.1 2.5l-2.1 -2.5zM245.98 328.66l2.1 2.5l-2.1 2.5l-2.1 -2.5zM249.39 329.46l2.1 2.5l-2.1 2.5l-2.1 -2.5zM252.83 330.14l2.1 2.5l-2.1 2.5l-2.1 -2.5zM256.29 330.6l2.1 2.5l-2.1 2.5l-2.1 -2.5zM259.79 330.61l2.1 2.5l-2.1 2.5l-2.1 -2.5zM263.26 330.14l2.1 2.5l-2.1 2.5l-2.1 -2.5zM266.75 329.93l2.1 2.5l-2.1 2.5l-2.1 -2.5zM270.25 329.97l2.1 2.5l-2.1 2.5l-2.1 -2.5zM273.72 330.36l2.1 2.5l-2.1 2.5l-2.1 -2.5zM277.2 330.34l2.1 2.5l-2.1 2.5l-2.1 -2.5zM280.64 329.68l2.1 2.5l-2.1 2.5l-2.1 -2.5zM284.09 329.11l2.1 2.5l-2.1 2.5l-2.1 -2.5zM287.57 328.8l2.1 2.5l-2.1 2.5l-2.1 -2.5zM291.05 329.22l2.1 2.5l-2.1 2.5l-2.1 -2.5zM294.46 329.97l2.1 2.5l-2.1 2.5l-2.1 -2.5zM297.81 330.98l2.1 2.5l-2.1 2.5l-2.1 -2.5zM301.26 331.55l2.1 2.5l-2.1 2.5l-2.1 -2.5zM304.76 331.61l2.1 2.5l-2.1 2.5l-2.1 -2.5zM308.23 331.19l2.1 2.5l-2.1 2.5l-2.1 -2.5zM311.67 330.55l2.1 2.5l-2.1 2.5l-2.1 -2.5zM315.08 329.77l2.1 2.5l-2.1 2.5l-2.1 -2.5zM318.55 329.31l2.1 2.5l-2.1 2.5l-2.1 -2.5zM322.05 329.26l2.1 2.5l-2.1 2.5l-2.1 -2.5zM325.47 329.92l2.1 2.5l-2.1 2.5l-2.1 -2.5zM328.86 330.8l2.1 2.5l-2.1 2.5l-2.1 -2.5zM332.3 331.47l2.1 2.5l-2.1 2.5l-2.1 -2.5zM335.78 331.44l2.1 2.5l-2.1 2.5l-2.1 -2.5zM339.2 330.69l2.1 2.5l-2.1 2.5l-2.1 -2.5zM342.63 330.02l2.1 2.5l-2.1 2.5l-2.1 -2.5z" fill="#EDB120"/>
<polyline points="163.3,332.8 163.71,333.07 164.29,333.43 164.96,333.86 165.68,334.35 166.38,334.9 167,335.5 167.55,336.15 168.07,336.88 168.57,337.66 169.06,338.48 169.54,339.33 170,340.2 170.45,341.08 170.89,341.97 171.31,342.89 171.72,343.86 172.12,344.89 172.5,346 172.87,347.22 173.22,348.54 173.56,349.93 173.89,351.33 174.2,352.7 174.5,354 174.78,355.23 175.06,356.42 175.31,357.58 175.56,358.73 175.78,359.86 176,361 176.21,362.21 176.41,363.5 176.59,364.79 176.76,365.97 176.9,366.97 177,367.7" stroke="#EDB120" stroke-width="1.5" fill="none" stroke-linejoin="round"/>
<path d="M163.3 330.3l2.1 2.5l-2.1 2.5l-2.1 -2.5zM164.82 331.27l2.1 2.5l-2.1 2.5l-2.1 -2.5zM166.28 332.32l2.1 2.5l-2.1 2.5l-2.1 -2.5zM167.52 333.62l2.1 2.5l-2.1 2.5l-2.1 -2.5zM168.54 335.1l2.1 2.5l-2.1 2.5l-2.1 -2.5zM169.44 336.66l2.1 2.5l-2.1 2.5l-2.1 -2.5zM170.28 338.25l2.1 2.5l-2.1 2.5l-2.1 -2.5zM171.07 339.87l2.1 2.5l-2.1 2.5l-2.1 -2.5zM171.78 341.52l2.1 2.5l-2.1 2.5l-2.1 -2.5zM172.4 343.21l2.1 2.5l-2.1 2.5l-2.1 -2.5zM172.93 344.93l2.1 2.5l-2.1 2.5l-2.1 -2.5zM173.38 346.67l2.1 2.5l-2.1 2.5l-2.1 -2.5zM173.8 348.42l2.1 2.5l-2.1 2.5l-2.1 -2.5zM174.2 350.18l2.1 2.5l-2.1 2.5l-2.1 -2.5zM174.6 351.93l2.1 2.5l-2.1 2.5l-2.1 -2.5zM175 353.69l2.1 2.5l-2.1 2.5l-2.1 -2.5zM175.39 355.45l2.1 2.5l-2.1 2.5l-2.1 -2.5zM175.75 357.21l2.1 2.5l-2.1 2.5l-2.1 -2.5zM176.08 358.98l2.1 2.5l-2.1 2.5l-2.1 -2.5zM176.37 360.75l2.1 2.5l-2.1 2.5l-2.1 -2.5zM176.63 362.54l2.1 2.5l-2.1 2.5l-2.1 -2.5zM176.88 364.32l2.1 2.5l-2.1 2.5l-2.1 -2.5z" fill="#EDB120"/>
<polyline points="176.4,277.6 176.63,277.9 176.94,278.29 177.31,278.77 177.71,279.31 178.12,279.89 178.5,280.5 178.86,281.07 179.22,281.6 179.59,282.17 179.96,282.87 180.33,283.79 180.7,285 181.06,286.57 181.4,288.44 181.74,290.52 182.11,292.73 182.52,294.98 183,297.2 183.55,299.42 184.16,301.73 184.81,304.09 185.49,306.44 186.19,308.76 186.9,311 187.63,313.21 188.38,315.44 189.16,317.63 189.94,319.73 190.73,321.67 191.5,323.4 192.29,324.92 193.11,326.27 193.93,327.47 194.72,328.54 195.45,329.47 196.1,330.3 196.67,330.99 197.18,331.52 197.64,331.93 198.03,332.24 198.35,332.49 198.6,332.7" stroke="#EDB120" stroke-width="1.5" fill="none" stroke-linejoin="round"/>
<path d="M176.4 275.1l2.1 2.5l-2.1 2.5l-2.1 -2.5zM177.5 276.52l2.1 2.5l-2.1 2.5l-2.1 -2.5zM178.51 278.01l2.1 2.5l-2.1 2.5l-2.1 -2.5zM179.49 279.52l2.1 2.5l-2.1 2.5l-2.1 -2.5zM180.27 281.14l2.1 2.5l-2.1 2.5l-2.1 -2.5zM180.78 282.86l2.1 2.5l-2.1 2.5l-2.1 -2.5zM181.16 284.62l2.1 2.5l-2.1 2.5l-2.1 -2.5zM181.48 286.4l2.1 2.5l-2.1 2.5l-2.1 -2.5zM181.77 288.17l2.1 2.5l-2.1 2.5l-2.1 -2.5zM182.06 289.95l2.1 2.5l-2.1 2.5l-2.1 -2.5zM182.38 291.72l2.1 2.5l-2.1 2.5l-2.1 -2.5zM182.74 293.48l2.1 2.5l-2.1 2.5l-2.1 -2.5zM183.13 295.24l2.1 2.5l-2.1 2.5l-2.1 -2.5zM183.57 296.99l2.1 2.5l-2.1 2.5l-2.1 -2.5zM184.02 298.73l2.1 2.5l-2.1 2.5l-2.1 -2.5zM184.5 300.46l2.1 2.5l-2.1 2.5l-2.1 -2.5zM184.98 302.2l2.1 2.5l-2.1 2.5l-2.1 -2.5zM185.48 303.93l2.1 2.5l-2.1 2.5l-2.1 -2.5zM186.01 305.65l2.1 2.5l-2.1 2.5l-2.1 -2.5zM186.54 307.37l2.1 2.5l-2.1 2.5l-2.1 -2.5zM187.09 309.08l2.1 2.5l-2.1 2.5l-2.1 -2.5zM187.65 310.79l2.1 2.5l-2.1 2.5l-2.1 -2.5zM188.23 312.5l2.1 2.5l-2.1 2.5l-2.1 -2.5zM188.83 314.2l2.1 2.5l-2.1 2.5l-2.1 -2.5zM189.44 315.89l2.1 2.5l-2.1 2.5l-2.1 -2.5zM190.08 317.57l2.1 2.5l-2.1 2.5l-2.1 -2.5zM190.76 319.24l2.1 2.5l-2.1 2.5l-2.1 -2.5zM191.49 320.88l2.1 2.5l-2.1 2.5l-2.1 -2.5zM192.32 322.48l2.1 2.5l-2.1 2.5l-2.1 -2.5zM193.27 324.01l2.1 2.5l-2.1 2.5l-2.1 -2.5zM194.31 325.48l2.1 2.5l-2.1 2.5l-2.1 -2.5zM195.4 326.91l2.1 2.5l-2.1 2.5l-2.1 -2.5zM196.52 328.31l2.1 2.5l-2.1 2.5l-2.1 -2.5zM197.81 329.57l2.1 2.5l-2.1 2.5l-2.1 -2.5z" fill="#EDB120"/>
<rect x="161.1" y="330.6" width="4.4" height="4.4" fill="#ff0000" stroke="none" stroke-width="0.8"/>
<rect x="196.4" y="330.5" width="4.4" height="4.4" fill="#ff0000" stroke="none" stroke-width="0.8"/>
<rect x="174.6" y="262.1" width="4.2" height="4.2" fill="#0000ff" stroke="none" stroke-width="0.8"/>
<rect x="174.5" y="428.9" width="4.2" height="4.2" fill="#0000ff" stroke="none" stroke-width="0.8"/>
<rect x="196.7" y="242.9" width="4.2" height="4.2" fill="#fff" stroke="#ff0000" stroke-width="0.8"/>
<rect x="161" y="436.9" width="4.2" height="4.2" fill="#fff" stroke="#ff0000" stroke-width="0.8"/>
<line x1="58.2" y1="304.7" x2="42.56" y2="319.78" stroke="#404040" stroke-width="0.9" />
<polygon points="38.6,323.6 41.01,317.46 44.83,321.41" fill="#404040"/>
<text x="53.8" y="301.4" font-size="10" text-anchor="start" fill="#4d4d4d" font-weight="normal" font-style="normal" font-family='"Liberation Sans", sans-serif' >Obs.</text>
<line x1="119.3" y1="304.7" x2="119.3" y2="320.7" stroke="#D95319" stroke-width="0.9" />
<polygon points="119.3,326.2 116.3,320.2 122.3,320.2" fill="#D95319"/>
<text x="108.5" y="301.4" font-size="10" text-anchor="start" fill="#D95319" font-weight="normal" font-style="normal" font-family='"Liberation Sans", sans-serif' >Res.</text>
<line x1="85.2" y1="375.6" x2="100.68" y2="366.13" stroke="#ff0000" stroke-width="0.9" />
<polygon points="105.8,363 101.82,368.95 98.69,363.83" fill="#ff0000"/>
<text x="60" y="385.6" font-size="10" text-anchor="start" fill="#ff0000" font-weight="normal" font-style="normal" font-family='"Liberation Sans", sans-serif' >Model</text>
<line x1="41" y1="492.2" x2="41" y2="489.7" stroke="#262626" stroke-width="0.8" />
<line x1="41" y1="170.6" x2="41" y2="173.1" stroke="#262626" stroke-width="0.8" />
<line x1="108.8" y1="492.2" x2="108.8" y2="489.7" stroke="#262626" stroke-width="0.8" />
<line x1="108.8" y1="170.6" x2="108.8" y2="173.1" stroke="#262626" stroke-width="0.8" />
<line x1="176.6" y1="492.2" x2="176.6" y2="489.7" stroke="#262626" stroke-width="0.8" />
<line x1="176.6" y1="170.6" x2="176.6" y2="173.1" stroke="#262626" stroke-width="0.8" />
<line x1="244.4" y1="492.2" x2="244.4" y2="489.7" stroke="#262626" stroke-width="0.8" />
<line x1="244.4" y1="170.6" x2="244.4" y2="173.1" stroke="#262626" stroke-width="0.8" />
<line x1="312.2" y1="492.2" x2="312.2" y2="489.7" stroke="#262626" stroke-width="0.8" />
<line x1="312.2" y1="170.6" x2="312.2" y2="173.1" stroke="#262626" stroke-width="0.8" />
<line x1="34.5" y1="474.6" x2="37" y2="474.6" stroke="#262626" stroke-width="0.8" />
<line x1="345.6" y1="474.6" x2="343.1" y2="474.6" stroke="#262626" stroke-width="0.8" />
<line x1="34.5" y1="403.7" x2="37" y2="403.7" stroke="#262626" stroke-width="0.8" />
<line x1="345.6" y1="403.7" x2="343.1" y2="403.7" stroke="#262626" stroke-width="0.8" />
<line x1="34.5" y1="332.8" x2="37" y2="332.8" stroke="#262626" stroke-width="0.8" />
<line x1="345.6" y1="332.8" x2="343.1" y2="332.8" stroke="#262626" stroke-width="0.8" />
<line x1="34.5" y1="261.9" x2="37" y2="261.9" stroke="#262626" stroke-width="0.8" />
<line x1="345.6" y1="261.9" x2="343.1" y2="261.9" stroke="#262626" stroke-width="0.8" />
<line x1="34.5" y1="191" x2="37" y2="191" stroke="#262626" stroke-width="0.8" />
<line x1="345.6" y1="191" x2="343.1" y2="191" stroke="#262626" stroke-width="0.8" />
<rect x="34.5" y="170.6" width="311.1" height="321.6" fill="none" stroke="#262626" stroke-width="0.9"/>
<text x="29.9" y="478.2" font-size="10" text-anchor="end" fill="#262626" font-weight="normal" font-style="normal" font-family='"Liberation Sans", sans-serif' >-4</text>
<text x="29.9" y="407.3" font-size="10" text-anchor="end" fill="#262626" font-weight="normal" font-style="normal" font-family='"Liberation Sans", sans-serif' >-2</text>
<text x="31.6" y="336.4" font-size="10" text-anchor="end" fill="#262626" font-weight="normal" font-style="normal" font-family='"Liberation Sans", sans-serif' >0</text>
<text x="31.6" y="265.5" font-size="10" text-anchor="end" fill="#262626" font-weight="normal" font-style="normal" font-family='"Liberation Sans", sans-serif' >2</text>
<text x="31.6" y="194.6" font-size="10" text-anchor="end" fill="#262626" font-weight="normal" font-style="normal" font-family='"Liberation Sans", sans-serif' >4</text>
<text x="39.9" y="504.4" font-size="10" text-anchor="middle" fill="#262626" font-weight="normal" font-style="normal" font-family='"Liberation Sans", sans-serif' >-40</text>
<text x="107.7" y="504.4" font-size="10" text-anchor="middle" fill="#262626" font-weight="normal" font-style="normal" font-family='"Liberation Sans", sans-serif' >-20</text>
<text x="175.5" y="504.4" font-size="10" text-anchor="middle" fill="#262626" font-weight="normal" font-style="normal" font-family='"Liberation Sans", sans-serif' >0</text>
<text x="243.3" y="504.4" font-size="10" text-anchor="middle" fill="#262626" font-weight="normal" font-style="normal" font-family='"Liberation Sans", sans-serif' >20</text>
<text x="311.1" y="504.4" font-size="10" text-anchor="middle" fill="#262626" font-weight="normal" font-style="normal" font-family='"Liberation Sans", sans-serif' >40</text>
<text x="38.6" y="184.4" font-size="13" text-anchor="start" fill="#000" font-weight="bold" font-style="normal" font-family='"Liberation Sans", sans-serif' >d</text>
<text x="185.4" y="518" font-size="10.8" text-anchor="middle" fill="#262626" font-weight="normal" font-style="normal" font-family='"Liberation Sans", sans-serif' >Distance (km)</text>
<text x="16.6" y="342.7" font-size="10.95" text-anchor="middle" fill="#262626" font-weight="normal" font-style="normal" font-family='"Liberation Sans", sans-serif' transform="rotate(-90 16.6 342.7)" >Fault-parallel displacement (m)</text>
<defs>
<clipPath id="mclip"><rect x="361.6" y="170.7" width="310.9" height="321.6"/></clipPath>
<clipPath id="bandclip"><polygon points="378,170 605,170 612.6,185.3 621.6,178.3 632.7,174.9 638,170 660,170 663,178.3 668.8,188 673,200 673,266.9 654,271.5 635.5,277.6 620.2,286.8 601.8,296 580.4,308.2 565,316 552.8,326.6 540.5,337.4 519,345 503.7,357.3 491.5,372.6 482.3,391 470,420 462,440 452,466 442,488 440,493 384.4,493 361,479 361,340"/></clipPath>
<clipPath id="leftclip"><polygon points="361,170 380,170 411,229 406,257 396,275 387,292 378,309 369.6,326.6 361,340"/></clipPath>
<filter id="hillW" x="0" y="0" width="1" height="1" filterUnits="objectBoundingBox" color-interpolation-filters="sRGB">
 <feTurbulence type="turbulence" baseFrequency="0.028 0.06" numOctaves="4" seed="5" result="t"/>
 <feDiffuseLighting in="t" surfaceScale="1.8" diffuseConstant="1.38" lighting-color="#fff" result="l">
   <feDistantLight azimuth="225" elevation="50"/>
 </feDiffuseLighting>
 <feComposite in="l" in2="SourceGraphic" operator="in"/>
</filter>
<filter id="hillG" x="0" y="0" width="1" height="1" filterUnits="objectBoundingBox" color-interpolation-filters="sRGB">
 <feTurbulence type="turbulence" baseFrequency="0.022 0.1" numOctaves="2" seed="9" result="t"/>
 <feColorMatrix in="t" type="matrix" values="0 0 0 1 0  0 0 0 1 0  0 0 0 1 0  0 0 0 0 1" result="g"/>
 <feComponentTransfer in="g" result="c"><feFuncR type="table" tableValues="0.55 0.82 0.89 0.895 0.895 0.895 0.895 0.895 0.895 0.895 0.895 0.895"/><feFuncG type="table" tableValues="0.55 0.82 0.89 0.895 0.895 0.895 0.895 0.895 0.895 0.895 0.895 0.895"/><feFuncB type="table" tableValues="0.55 0.82 0.89 0.895 0.895 0.895 0.895 0.895 0.895 0.895 0.895 0.895"/></feComponentTransfer>
 <feDiffuseLighting in="t" surfaceScale="0.5" diffuseConstant="1.33" lighting-color="#fff" result="l"><feDistantLight azimuth="225" elevation="50"/></feDiffuseLighting>
 <feBlend in="c" in2="l" mode="multiply" result="m"/>
 <feComposite in="m" in2="SourceGraphic" operator="in"/>
</filter>
<filter id="hillF" x="0" y="0" width="1" height="1" filterUnits="objectBoundingBox" color-interpolation-filters="sRGB">
 <feTurbulence type="fractalNoise" baseFrequency="0.08 0.13" numOctaves="3" seed="13" result="t"/>
 <feDiffuseLighting in="t" surfaceScale="0.35" diffuseConstant="1.17" lighting-color="#fff" result="l">
   <feDistantLight azimuth="225" elevation="50"/>
 </feDiffuseLighting>
 <feComposite in="l" in2="SourceGraphic" operator="in"/>
</filter>
<filter id="hillS" x="0" y="0" width="1" height="1" filterUnits="objectBoundingBox" color-interpolation-filters="sRGB">
 <feTurbulence type="turbulence" baseFrequency="0.028 0.06" numOctaves="4" seed="5" result="t"/>
 <feDiffuseLighting in="t" surfaceScale="2.5" diffuseConstant="1.34" lighting-color="#fff" result="l">
   <feDistantLight azimuth="225" elevation="50"/>
 </feDiffuseLighting>
 <feComposite in="l" in2="SourceGraphic" operator="in"/>
</filter>
<filter id="mblur" x="-20%" y="-20%" width="140%" height="140%"><feGaussianBlur stdDeviation="7"/></filter>
<mask id="mtn" maskUnits="userSpaceOnUse" x="340" y="150" width="360" height="370"><g filter="url(#mblur)" fill="#fff">
<polygon points="400,165 605,165 600,185 560,205 540,215 500,214 470,205 440,205 410,222"/>
<polygon points="418,236 440,216 500,223 545,229 580,210 620,200 665,193 662,210 620,215 580,234 545,252 510,273 480,290 450,302 420,300"/>
<polygon points="361,340 398,300 438,306 430,345 420,380 405,410 395,440 380,470 365,480"/>
</g></mask>
<filter id="soft" x="-30%" y="-30%" width="160%" height="160%"><feGaussianBlur stdDeviation="6"/></filter>
<filter id="glow" x="-30%" y="-30%" width="160%" height="160%"><feGaussianBlur stdDeviation="1.0"/></filter>
<filter id="glow2" x="-30%" y="-30%" width="160%" height="160%"><feGaussianBlur stdDeviation="1.8"/></filter>
<linearGradient id="cmap" x1="0" x2="1" y1="0" y2="0">
  <stop offset="0" stop-color="#ffffff"/>
  <stop offset="0.12" stop-color="#fffffb"/>
  <stop offset="0.25" stop-color="#fff2c6"/>
  <stop offset="0.38" stop-color="#fdd979"/>
  <stop offset="0.5" stop-color="#f9a92e"/>
  <stop offset="0.62" stop-color="#f47b26"/>
  <stop offset="0.74" stop-color="#ea4a28"/>
  <stop offset="0.82" stop-color="#d9202a"/>
  <stop offset="0.91" stop-color="#b5152a"/>
  <stop offset="1" stop-color="#8f0f1e"/>
</linearGradient>
</defs>
<g clip-path="url(#mclip)">
<g transform="rotate(-24 517 331)"><rect x="250" y="60" width="540" height="540" fill="#fff" filter="url(#hillF)"/></g>
<g clip-path="url(#bandclip)"><g transform="rotate(-24 517 331)"><rect x="250" y="60" width="540" height="540" fill="#fff" filter="url(#hillW)"/></g></g>
<g clip-path="url(#bandclip)"><g mask="url(#mtn)" opacity="0.75"><g transform="rotate(-24 517 331)"><rect x="250" y="60" width="540" height="540" fill="#fff" filter="url(#hillS)"/></g></g></g>
<g clip-path="url(#leftclip)"><g transform="rotate(-55 390 250)"><rect x="250" y="100" width="300" height="300" fill="#fff" filter="url(#hillG)"/></g></g>
<g clip-path="url(#bandclip)"><g filter="url(#soft)" fill="#fbfbfb" opacity="0.7"><path d="M402 488 L440 488 L452 462 L462 440 L470 418 L482 392 L492 372 L504 357 L520 345 L540 337 L552 326 L520 318 L490 320 L470 335 L455 350 L445 380 L430 420 L412 455 Z"/><path d="M470 240 L540 232 L520 255 L470 262 Z"/><path d="M392 490 L442 490 L456 456 L445 440 L420 440 L400 460 Z"/></g></g>
<g clip-path="url(#bandclip)" opacity="0.7">
<line x1="395" y1="407.52" x2="500" y2="432.72" stroke="#d6d6d6" stroke-width="0.8" />
<line x1="395" y1="411.72" x2="500" y2="436.92" stroke="#d6d6d6" stroke-width="0.8" />
<line x1="395" y1="414.92" x2="500" y2="440.12" stroke="#d6d6d6" stroke-width="0.8" />
<line x1="395" y1="419.12" x2="500" y2="444.32" stroke="#d6d6d6" stroke-width="0.8" />
<line x1="395" y1="439.22" x2="500" y2="464.42" stroke="#d6d6d6" stroke-width="0.8" />
<line x1="395" y1="443.42" x2="500" y2="468.62" stroke="#d6d6d6" stroke-width="0.8" />
<line x1="395" y1="447.62" x2="500" y2="472.82" stroke="#d6d6d6" stroke-width="0.8" />
<line x1="395" y1="450.92" x2="500" y2="476.12" stroke="#d6d6d6" stroke-width="0.8" />
<line x1="395" y1="454.02" x2="500" y2="479.22" stroke="#d6d6d6" stroke-width="0.8" />
<line x1="395" y1="393.26" x2="500" y2="416.36" stroke="#d6d6d6" stroke-width="0.8" />
<line x1="395" y1="399.26" x2="500" y2="422.36" stroke="#d6d6d6" stroke-width="0.8" />
</g>
<g clip-path="url(#bandclip)" opacity="0.85">
<line x1="386" y1="168" x2="402" y2="204" stroke="#fcfcfc" stroke-width="7.5" />
<line x1="404.5" y1="168" x2="416" y2="205" stroke="#fcfcfc" stroke-width="5" />
</g>
<path d="M361 374 C370 374 377 380 378.5 392 C380 404 376 416 368 424 L361 426 Z" fill="#dff0ee"/>
</g>
<g clip-path="url(#mclip)">
<g transform="translate(-0.5 -1.0)">
<polyline points="411,228 411.97,226.99 413.3,225.56 414.88,223.88 416.59,222.11 418.34,220.43 420,219" stroke="#fee8a8" stroke-width="5.699999999999999" fill="none" stroke-linecap="round" stroke-linejoin="round" filter="url(#glow2)"/>
<polyline points="436.34,210.38 438,210 439.99,209.62" stroke="#ffedb7" stroke-width="3.25" fill="none" stroke-linecap="round" stroke-linejoin="round" filter="url(#glow2)"/>
<polyline points="438.84,214.61 439.14,217.36 439.45,220.33 439.75,223.28 440,226 440.21,228.7 440.41,231.59 440.6,234.46" stroke="#fff8de" stroke-width="3.5999999999999996" fill="none" stroke-linecap="round" stroke-linejoin="round" filter="url(#glow2)"/>
<polyline points="466,210 468.36,210.3 470.74,210.6" stroke="#feeaae" stroke-width="3.25" fill="none" stroke-linecap="round" stroke-linejoin="round" filter="url(#glow2)"/>
<polyline points="480,212 482.09,212.44 484.07,212.93" stroke="#fff2c6" stroke-width="2.9" fill="none" stroke-linecap="round" stroke-linejoin="round" filter="url(#glow2)"/>
<polyline points="492,215 494.26,215.49 496.67,215.98 499.12,216.46 501.56,216.96 503.88,217.47 506,218" stroke="#fbc154" stroke-width="4.3" fill="none" stroke-linecap="round" stroke-linejoin="round" filter="url(#glow2)"/>
<polyline points="514.38,221.19 516,221.6 517.67,221.83 519.33,221.92 521,221.91 522.67,221.86 524.33,221.81 526,221.8 527.69,221.85 529.41,221.91 531.12,221.98 532.81,222.02 534.45,222.04 536,222 537.45,221.94 538.81,221.87 540.12,221.76 541.41,221.6 542.69,221.35 544,221 545.36,220.51" stroke="#f58628" stroke-width="6.05" fill="none" stroke-linecap="round" stroke-linejoin="round" filter="url(#glow2)"/>
<polyline points="545.36,220.51 546.74,219.89 548.12,219.19 549.48,218.44 550.78,217.7 552,217 553.13,216.36 554.19,215.74 555.19,215.12 556.15,214.48 557.08,213.78 558,213 558.84,212.09 559.59,211.07 560.31,210" stroke="#fddd85" stroke-width="3.32" fill="none" stroke-linecap="round" stroke-linejoin="round" filter="url(#glow2)"/>
<polyline points="561.07,208.93 561.95,207.91 563,207 564.21,206.26 565.52,205.67 566.94,205.12 568.48,204.56 570.16,203.88 572,203 574.09,201.86 576.44,200.52 578.94,199.06" stroke="#fdd573" stroke-width="4.3" fill="none" stroke-linecap="round" stroke-linejoin="round" filter="url(#glow2)"/>
<polyline points="583.84,196.21 586,195 587.87,194.02 589.54,193.19 591.1,192.44" stroke="#fab947" stroke-width="4.3" fill="none" stroke-linecap="round" stroke-linejoin="round" filter="url(#glow2)"/>
<polyline points="592.64,191.7 594.24,190.91 596,190 598.07,188.87 600.41,187.56 602.83,186.19 605.1,184.89 607.02,183.78 608.4,183" stroke="#fffcef" stroke-width="5.0" fill="none" stroke-linecap="round" stroke-linejoin="round" filter="url(#glow2)"/>
<polyline points="534.05,256.82 534.95,255.85 535.91,254.88 537,253.9 538.28,252.89 539.7,251.87 541.18,250.86 542.64,249.86 544.01,248.91 545.2,248 546.17,247.15 546.99,246.33 547.7,245.55" stroke="#fccd66" stroke-width="4.65" fill="none" stroke-linecap="round" stroke-linejoin="round" filter="url(#glow2)"/>
<polyline points="552.51,241.55 553.47,240.99 554.52,240.44 555.7,239.9 557.07,239.37 558.63,238.85 560.28,238.35 561.94,237.86" stroke="#ffedb7" stroke-width="3.25" fill="none" stroke-linecap="round" stroke-linejoin="round" filter="url(#glow2)"/>
<polyline points="569.09,235.35 570.34,234.85 572,234.2 574.19,233.36 576.81,232.37 579.69,231.28 582.63,230.15 585.46,229.04 588,228" stroke="#fccd66" stroke-width="4.16" fill="none" stroke-linecap="round" stroke-linejoin="round" filter="url(#glow2)"/>
<polyline points="594.5,225.09 596.44,224.16 598.28,223.26 600,222.4 601.54,221.59 602.89,220.83" stroke="#fcc75d" stroke-width="3.9499999999999997" fill="none" stroke-linecap="round" stroke-linejoin="round" filter="url(#glow2)"/>
<polyline points="604.12,220.1 605.33,219.39 606.6,218.7 608,218 609.55,217.28 611.19,216.55 612.88,215.82" stroke="#fff2c6" stroke-width="3.25" fill="none" stroke-linecap="round" stroke-linejoin="round" filter="url(#glow2)"/>
<polyline points="618,214 619.69,213.59 621.41,213.28 623.12,213.04 624.81,212.83 626.45,212.63 628,212.4 629.4,212.19 630.67,212.01 631.88,211.85 633.11,211.65 634.46,211.38 636,211 637.79,210.51 639.78,209.93 641.88,209.29" stroke="#fee8a8" stroke-width="3.5999999999999996" fill="none" stroke-linecap="round" stroke-linejoin="round" filter="url(#glow2)"/>
<polyline points="646.07,207.81 648,207 649.78,206.13 651.46,205.2 653.09,204.21 654.7,203.18 656.32,202.1 658,201 659.85,199.76 661.88,198.36 663.92,196.93 665.83,195.57 667.44,194.42 668.6,193.6" stroke="#fffcef" stroke-width="5.0" fill="none" stroke-linecap="round" stroke-linejoin="round" filter="url(#glow2)"/>
<polyline points="508,278.81 510.07,277.38 512,276 513.79,274.67 515.52,273.33 517.19,272 518.81,270.67 520.41,269.33 522,268" stroke="#f89f2c" stroke-width="5.35" fill="none" stroke-linecap="round" stroke-linejoin="round" filter="url(#glow2)"/>
<polyline points="484.15,289.81 486.25,289.38 488.3,288.96 490.23,288.52 492,288 493.52,287.44 494.81,286.89 496,286.31 497.19,285.67 498.48,284.91 500,284" stroke="#fcd16c" stroke-width="3.9499999999999997" fill="none" stroke-linecap="round" stroke-linejoin="round" filter="url(#glow2)"/>
<polyline points="463.56,300.94 464.93,299.56 466.4,298.23 468,297 469.77,295.85" stroke="#fff4d0" stroke-width="3.25" fill="none" stroke-linecap="round" stroke-linejoin="round" filter="url(#glow2)"/>
<polyline points="449,322 450.01,320.3 451.04,318.56 452.06,316.81 453.07,315.11 454.06,313.49 455,312 455.86,310.67 456.63,309.48 457.38,308.38 458.15,307.3 459,306.19 460,305" stroke="#fddf8b" stroke-width="3.9499999999999997" fill="none" stroke-linecap="round" stroke-linejoin="round" filter="url(#glow2)"/>
<polyline points="425.5,361.81 426,360.59 426.5,359.34 427,358 427.45,356.56 427.85,355.07 428.25,353.56 428.7,352.04 429.27,350.51 430,349 430.95,347.49 432.07,345.96 433.31,344.44 434.59,342.93 435.84,341.44 437,340 438.06,338.63" stroke="#f89f2c" stroke-width="4.65" fill="none" stroke-linecap="round" stroke-linejoin="round" filter="url(#glow2)"/>
<polyline points="421,378 421.62,375.84 422.15,373.7 422.62,371.62 423.07,369.63 423.52,367.75 424,366" stroke="#fff4d0" stroke-width="3.25" fill="none" stroke-linecap="round" stroke-linejoin="round" filter="url(#glow2)"/>
<polyline points="404,410 404.77,409.19 405.7,408.37 406.75,407.5 407.85,406.52 408.95,405.37 410,404 411.01,402.37 412.04,400.52 413.06,398.5 414.07,396.37 415.06,394.19 416,392" stroke="#fff8de" stroke-width="3.5999999999999996" fill="none" stroke-linecap="round" stroke-linejoin="round" filter="url(#glow2)"/>
<polyline points="388,452 389.01,449.98 390.04,447.93 391.06,445.88 392.07,443.85 393.06,441.88 394,440 394.93,438.22 395.85,436.52 396.75,434.88" stroke="#f9a92e" stroke-width="4.3" fill="none" stroke-linecap="round" stroke-linejoin="round" filter="url(#glow2)"/>
<polyline points="380.23,467.47 381.1,465.78 382,464 382.94,462.12 383.93,460.15 384.94,458.12 385.96,456.07 386.99,454.02" stroke="#fddf8b" stroke-width="3.5999999999999996" fill="none" stroke-linecap="round" stroke-linejoin="round" filter="url(#glow2)"/>
<polyline points="376.19,475.83 377,474 377.78,472.33 378.58,470.71 379.39,469.1" stroke="#fffae5" stroke-width="3.9499999999999997" fill="none" stroke-linecap="round" stroke-linejoin="round" filter="url(#glow2)"/>
<polyline points="495.6,292 494.96,292.87 494.05,294.07 492.99,295.5 491.88,297.04 490.85,298.57 490,300" stroke="#fff2c6" stroke-width="3.25" fill="none" stroke-linecap="round" stroke-linejoin="round" filter="url(#glow2)"/>
<polyline points="411,228 411.97,226.99 413.3,225.56 414.88,223.88 416.59,222.11 418.34,220.43 420,219" stroke="#f58327" stroke-width="3.5999999999999996" fill="none" stroke-linecap="round" stroke-linejoin="round" filter="url(#glow)"/>
<polyline points="436.34,210.38 438,210 439.99,209.62" stroke="#f7962b" stroke-width="1.5" fill="none" stroke-linecap="round" stroke-linejoin="round" filter="url(#glow)"/>
<polyline points="438.84,214.61 439.14,217.36 439.45,220.33 439.75,223.28 440,226 440.21,228.7 440.41,231.59 440.6,234.46" stroke="#fdd979" stroke-width="1.7999999999999998" fill="none" stroke-linecap="round" stroke-linejoin="round" filter="url(#glow)"/>
<polyline points="466,210 468.36,210.3 470.74,210.6" stroke="#f68a29" stroke-width="1.5" fill="none" stroke-linecap="round" stroke-linejoin="round" filter="url(#glow)"/>
<polyline points="480,212 482.09,212.44 484.07,212.93" stroke="#f9a92e" stroke-width="1.2" fill="none" stroke-linecap="round" stroke-linejoin="round" filter="url(#glow)"/>
<polyline points="492,215 494.26,215.49 496.67,215.98 499.12,216.46 501.56,216.96 503.88,217.47 506,218" stroke="#c1192a" stroke-width="2.4" fill="none" stroke-linecap="round" stroke-linejoin="round" filter="url(#glow)"/>
<polyline points="514.38,221.19 516,221.6 517.67,221.83 519.33,221.92 521,221.91 522.67,221.86 524.33,221.81 526,221.8 527.69,221.85 529.41,221.91 531.12,221.98 532.81,222.02 534.45,222.04 536,222 537.45,221.94 538.81,221.87 540.12,221.76 541.41,221.6 542.69,221.35 544,221 545.36,220.51" stroke="#44070c" stroke-width="3.9" fill="none" stroke-linecap="round" stroke-linejoin="round" filter="url(#glow)"/>
<polyline points="545.36,220.51 546.74,219.89 548.12,219.19 549.48,218.44 550.78,217.7 552,217 553.13,216.36 554.19,215.74 555.19,215.12 556.15,214.48 557.08,213.78 558,213 558.84,212.09 559.59,211.07 560.31,210" stroke="#ec5228" stroke-width="1.56" fill="none" stroke-linecap="round" stroke-linejoin="round" filter="url(#glow)"/>
<polyline points="561.07,208.93 561.95,207.91 563,207 564.21,206.26 565.52,205.67 566.94,205.12 568.48,204.56 570.16,203.88 572,203 574.09,201.86 576.44,200.52 578.94,199.06" stroke="#e23529" stroke-width="2.4" fill="none" stroke-linecap="round" stroke-linejoin="round" filter="url(#glow)"/>
<polyline points="583.84,196.21 586,195 587.87,194.02 589.54,193.19 591.1,192.44" stroke="#b11429" stroke-width="2.4" fill="none" stroke-linecap="round" stroke-linejoin="round" filter="url(#glow)"/>
<polyline points="592.64,191.7 594.24,190.91 596,190 598.07,188.87 600.41,187.56 602.83,186.19 605.1,184.89 607.02,183.78 608.4,183" stroke="#fee8a8" stroke-width="3.0" fill="none" stroke-linecap="round" stroke-linejoin="round" filter="url(#glow)"/>
<polyline points="534.05,256.82 534.95,255.85 535.91,254.88 537,253.9 538.28,252.89 539.7,251.87 541.18,250.86 542.64,249.86 544.01,248.91 545.2,248 546.17,247.15 546.99,246.33 547.7,245.55" stroke="#d9202a" stroke-width="2.6999999999999997" fill="none" stroke-linecap="round" stroke-linejoin="round" filter="url(#glow)"/>
<polyline points="552.51,241.55 553.47,240.99 554.52,240.44 555.7,239.9 557.07,239.37 558.63,238.85 560.28,238.35 561.94,237.86" stroke="#f7962b" stroke-width="1.5" fill="none" stroke-linecap="round" stroke-linejoin="round" filter="url(#glow)"/>
<polyline points="569.09,235.35 570.34,234.85 572,234.2 574.19,233.36 576.81,232.37 579.69,231.28 582.63,230.15 585.46,229.04 588,228" stroke="#d9202a" stroke-width="2.28" fill="none" stroke-linecap="round" stroke-linejoin="round" filter="url(#glow)"/>
<polyline points="594.5,225.09 596.44,224.16 598.28,223.26 600,222.4 601.54,221.59 602.89,220.83" stroke="#cd1c2a" stroke-width="2.1" fill="none" stroke-linecap="round" stroke-linejoin="round" filter="url(#glow)"/>
<polyline points="604.12,220.1 605.33,219.39 606.6,218.7 608,218 609.55,217.28 611.19,216.55 612.88,215.82" stroke="#f9a92e" stroke-width="1.5" fill="none" stroke-linecap="round" stroke-linejoin="round" filter="url(#glow)"/>
<polyline points="618,214 619.69,213.59 621.41,213.28 623.12,213.04 624.81,212.83 626.45,212.63 628,212.4 629.4,212.19 630.67,212.01 631.88,211.85 633.11,211.65 634.46,211.38 636,211 637.79,210.51 639.78,209.93 641.88,209.29" stroke="#f58327" stroke-width="1.7999999999999998" fill="none" stroke-linecap="round" stroke-linejoin="round" filter="url(#glow)"/>
<polyline points="646.07,207.81 648,207 649.78,206.13 651.46,205.2 653.09,204.21 654.7,203.18 656.32,202.1 658,201 659.85,199.76 661.88,198.36 663.92,196.93 665.83,195.57 667.44,194.42 668.6,193.6" stroke="#fee8a8" stroke-width="3.0" fill="none" stroke-linecap="round" stroke-linejoin="round" filter="url(#glow)"/>
<polyline points="508,278.81 510.07,277.38 512,276 513.79,274.67 515.52,273.33 517.19,272 518.81,270.67 520.41,269.33 522,268" stroke="#7a0d19" stroke-width="3.3" fill="none" stroke-linecap="round" stroke-linejoin="round" filter="url(#glow)"/>
<polyline points="484.15,289.81 486.25,289.38 488.3,288.96 490.23,288.52 492,288 493.52,287.44 494.81,286.89 496,286.31 497.19,285.67 498.48,284.91 500,284" stroke="#dd2a2a" stroke-width="2.1" fill="none" stroke-linecap="round" stroke-linejoin="round" filter="url(#glow)"/>
<polyline points="463.56,300.94 464.93,299.56 466.4,298.23 468,297 469.77,295.85" stroke="#fbbd4d" stroke-width="1.5" fill="none" stroke-linecap="round" stroke-linejoin="round" filter="url(#glow)"/>
<polyline points="449,322 450.01,320.3 451.04,318.56 452.06,316.81 453.07,315.11 454.06,313.49 455,312 455.86,310.67 456.63,309.48 457.38,308.38 458.15,307.3 459,306.19 460,305" stroke="#ed5a27" stroke-width="2.1" fill="none" stroke-linecap="round" stroke-linejoin="round" filter="url(#glow)"/>
<polyline points="425.5,361.81 426,360.59 426.5,359.34 427,358 427.45,356.56 427.85,355.07 428.25,353.56 428.7,352.04 429.27,350.51 430,349 430.95,347.49 432.07,345.96 433.31,344.44 434.59,342.93 435.84,341.44 437,340 438.06,338.63" stroke="#7a0d19" stroke-width="2.6999999999999997" fill="none" stroke-linecap="round" stroke-linejoin="round" filter="url(#glow)"/>
<polyline points="421,378 421.62,375.84 422.15,373.7 422.62,371.62 423.07,369.63 423.52,367.75 424,366" stroke="#fbbd4d" stroke-width="1.5" fill="none" stroke-linecap="round" stroke-linejoin="round" filter="url(#glow)"/>
<polyline points="404,410 404.77,409.19 405.7,408.37 406.75,407.5 407.85,406.52 408.95,405.37 410,404 411.01,402.37 412.04,400.52 413.06,398.5 414.07,396.37 415.06,394.19 416,392" stroke="#fdd979" stroke-width="1.7999999999999998" fill="none" stroke-linecap="round" stroke-linejoin="round" filter="url(#glow)"/>
<polyline points="388,452 389.01,449.98 390.04,447.93 391.06,445.88 392.07,443.85 393.06,441.88 394,440 394.93,438.22 395.85,436.52 396.75,434.88" stroke="#8f0f1e" stroke-width="2.4" fill="none" stroke-linecap="round" stroke-linejoin="round" filter="url(#glow)"/>
<polyline points="380.23,467.47 381.1,465.78 382,464 382.94,462.12 383.93,460.15 384.94,458.12 385.96,456.07 386.99,454.02" stroke="#ed5a27" stroke-width="1.7999999999999998" fill="none" stroke-linecap="round" stroke-linejoin="round" filter="url(#glow)"/>
<polyline points="376.19,475.83 377,474 377.78,472.33 378.58,470.71 379.39,469.1" stroke="#fddf8b" stroke-width="2.1" fill="none" stroke-linecap="round" stroke-linejoin="round" filter="url(#glow)"/>
<polyline points="495.6,292 494.96,292.87 494.05,294.07 492.99,295.5 491.88,297.04 490.85,298.57 490,300" stroke="#f9a92e" stroke-width="1.5" fill="none" stroke-linecap="round" stroke-linejoin="round" filter="url(#glow)"/>
</g>
<polyline points="411,228 412.21,226.73 413.9,224.9 415.9,222.82 417.99,220.75 420,219 421.97,217.56 424.02,216.24 426.1,215.04 428.11,213.96 430,213 431.63,212.19 433.06,211.52 434.46,210.96 436.05,210.46 438,210 440.42,209.54 443.17,209.11 446.11,208.74 449.1,208.49 452,208.4 454.8,208.51 457.6,208.79 460.4,209.18 463.2,209.6 466,210 468.83,210.36 471.7,210.72 474.54,211.11 477.33,211.53 480,212 482.5,212.54 484.85,213.13 487.15,213.75 489.5,214.38 492,215 494.74,215.59 497.65,216.17 500.59,216.76 503.42,217.36 506,218 508.26,218.74 510.29,219.56 512.19,220.38 514.06,221.09 516,221.6 518,221.86 520,221.92 522,221.88 524,221.81 526,221.8 528.03,221.86 530.1,221.94 532.14,222.01 534.13,222.04 536,222 537.73,221.92 539.34,221.83 540.9,221.67 542.43,221.41 544,221 545.63,220.39 547.3,219.62 548.94,218.74 550.53,217.85 552,217 553.34,216.23 554.59,215.5 555.77,214.74 556.9,213.93 558,213 559,211.9 559.88,210.65 560.76,209.35 561.76,208.1 563,207 564.46,206.14 566.07,205.45 567.85,204.79 569.82,204.02 572,203 574.54,201.61 577.43,199.94 580.45,198.18 583.38,196.47 586,195 588.22,193.84 590.17,192.88 592.02,192 593.91,191.08 596,190 598.52,188.62 601.38,187.01 604.22,185.39 606.68,183.98 608.4,183" stroke="#0000ff" stroke-width="1.1" fill="none" stroke-linejoin="round" stroke-linecap="round"/>
<polyline points="438.4,210.6 438.63,212.7 438.95,215.67 439.33,219.13 439.69,222.7 440,226 440.25,229.27 440.49,232.75 440.7,236.1 440.87,238.97 441,241" stroke="#0000ff" stroke-width="1.1" fill="none" stroke-linejoin="round" stroke-linecap="round"/>
<polyline points="372.7,484.4 373.27,482.98 374.08,480.97 375.02,478.63 376.03,476.22 377,474 377.94,472.01 378.9,470.07 379.89,468.12 380.92,466.12 382,464 383.14,461.73 384.33,459.34 385.55,456.9 386.78,454.43 388,452 389.22,449.57 390.45,447.1 391.67,444.66 392.86,442.27 394,440 395.11,437.87 396.22,435.86 397.26,433.9 398.21,431.97 399,430 399.61,427.94 400.06,425.81 400.42,423.71 400.71,421.74 401,420 401.25,418.51 401.42,417.22 401.58,416.06 401.75,415.01 402,414 402.27,413.1 402.54,412.35 402.86,411.65 403.33,410.9 404,410 404.94,409.02 406.11,408.03 407.41,406.93 408.74,405.62 410,404 411.22,402.02 412.45,399.73 413.67,397.23 414.86,394.62 416,392 417.1,389.3 418.17,386.45 419.19,383.55 420.14,380.7 421,378 421.73,375.41 422.34,372.86 422.9,370.42 423.43,368.11 424,366 424.6,364.16 425.2,362.56 425.8,361.08 426.4,359.6 427,358 427.54,356.26 428.01,354.47 428.51,352.65 429.14,350.82 430,349 431.16,347.18 432.56,345.35 434.08,343.53 435.6,341.74 437,340 438.26,338.37 439.47,336.82 440.65,335.3 441.82,333.71 443,332 444.2,330.13 445.4,328.14 446.6,326.1 447.8,324.03 449,322 450.22,319.95 451.45,317.86 452.67,315.78 453.86,313.81 455,312 456.02,310.42 456.93,309.03 457.83,307.73 458.82,306.42 460,305 461.34,303.43 462.79,301.78 464.37,300.1 466.1,298.49 468,297 470.14,295.62 472.51,294.31 475.01,293.09 477.54,291.98 480,291 482.46,290.22 484.99,289.63 487.49,289.13 489.86,288.62 492,288 493.79,287.33 495.3,286.66 496.7,285.94 498.21,285.07 500,284 502.18,282.66 504.61,281.09 507.15,279.39 509.66,277.66 512,276 514.14,274.4 516.19,272.8 518.17,271.2 520.1,269.6 522,268 523.91,266.37 525.82,264.71 527.66,263.06 529.41,261.48 531,260 532.36,258.66 533.51,257.41 534.59,256.23 535.71,255.08 537,253.9 538.56,252.69 540.29,251.46 542.07,250.26 543.75,249.09 545.2,248 546.35,246.98 547.28,246.01 548.11,245.1 548.95,244.23 549.9,243.4 550.93,242.62 551.97,241.9 553.08,241.21 554.3,240.55 555.7,239.9 557.37,239.26 559.28,238.65 561.28,238.05 563.23,237.47 565,236.9 566.4,236.4 567.53,235.97 568.66,235.52 570.06,234.96 572,234.2 574.69,233.17 577.94,231.94 581.46,230.6 584.91,229.26 588,228 590.72,226.82 593.28,225.66 595.68,224.52 597.92,223.43 600,222.4 601.82,221.44 603.39,220.53 604.85,219.67 606.34,218.84 608,218 609.87,217.14 611.86,216.26 613.9,215.41 615.97,214.64 618,214 620.03,213.52 622.1,213.18 624.14,212.91 626.13,212.67 628,212.4 629.66,212.15 631.15,211.95 632.61,211.74 634.18,211.44 636,211 638.18,210.4 640.61,209.68 643.15,208.87 645.66,207.97 648,207 650.12,205.95 652.12,204.81 654.05,203.6 655.99,202.32 658,201 660.25,199.49 662.71,197.79 665.09,196.09 667.15,194.63 668.6,193.6" stroke="#0000ff" stroke-width="1.1" fill="none" stroke-linejoin="round" stroke-linecap="round"/>
<polyline points="545,248.4 546.54,248.05 548.75,247.54 551.29,246.96 553.82,246.42 556,246 557.79,245.7 559.42,245.46 560.94,245.28 562.45,245.19 564,245.2 565.73,245.36 567.58,245.67 569.38,246.04 570.91,246.37 572,246.6" stroke="#0000ff" stroke-width="1.1" fill="none" stroke-linejoin="round" stroke-linecap="round"/>
<polyline points="495.6,292 494.8,293.09 493.64,294.62 492.32,296.42 491.04,298.27 490,300 489.21,301.64 488.54,303.32 487.96,304.97 487.46,306.55 487,308 486.6,309.36 486.26,310.68 485.98,311.88 485.76,312.88 485.6,313.6" stroke="#0000ff" stroke-width="1.1" fill="none" stroke-linejoin="round" stroke-linecap="round"/>
<circle cx="485.6" cy="313.6" r="1.3" fill="#e0201b"/>
<line x1="493.5" y1="283.5" x2="497.5" y2="290.5" stroke="#8a8a8a" stroke-width="1.6" />
</g>
<text x="467" y="187.1" font-size="10" text-anchor="middle" fill="#1a1a1a" font-weight="normal" font-style="normal" font-family='"Liberation Sans", sans-serif' >Supershear</text>
<text x="464.3" y="200.4" font-size="10" text-anchor="middle" fill="#1a1a1a" font-weight="normal" font-style="normal" font-family='"Liberation Sans", sans-serif' >(&gt;4km/s)</text>
<circle cx="475.6" cy="205.4" r="2.3" fill="#000"/>
<line x1="475.6" y1="205.4" x2="454.98" y2="203.39" stroke="#000" stroke-width="1.0" />
<polygon points="451,203 455.68,201.35 455.27,205.53" fill="#000"/>
<rect x="471.4" y="276.4" width="31.2" height="33.6" fill="none" stroke="#1a1a1a" stroke-width="0.9"/>
<rect x="419.4" y="326" width="29" height="39.4" fill="none" stroke="#1a1a1a" stroke-width="0.9"/>
<rect x="395.4" y="368.6" width="34.2" height="52.4" fill="none" stroke="#1a1a1a" stroke-width="0.9"/>
<text x="468" y="272.2" font-size="9.8" text-anchor="start" fill="#000" font-weight="normal" font-style="normal" font-family='"Liberation Sans", sans-serif' >Fig.4d</text>
<text x="408" y="322.2" font-size="9.8" text-anchor="start" fill="#000" font-weight="normal" font-style="normal" font-family='"Liberation Sans", sans-serif' >Fig.4e</text>
<text x="381.4" y="364.8" font-size="9.8" text-anchor="start" fill="#000" font-weight="normal" font-style="normal" font-family='"Liberation Sans", sans-serif' >Fig.4f</text>
<line x1="515" y1="298" x2="502.31" y2="291.3" stroke="#000" stroke-width="0.9" />
<polygon points="497,288.5 504.27,288.66 501.23,294.41" fill="#000"/>
<text x="515.2" y="295.2" font-size="10" text-anchor="start" fill="#1a1a1a" font-weight="normal" font-style="normal" font-family='"Liberation Sans", sans-serif' >Location of</text>
<text x="515.2" y="307.2" font-size="10" text-anchor="start" fill="#1a1a1a" font-weight="normal" font-style="normal" font-family='"Liberation Sans", sans-serif' >the profile in Fig.2d</text>
<rect x="537.2" y="422.2" width="116.5" height="16.1" fill="url(#cmap)" stroke="#1a1a1a" stroke-width="0.8"/>
<line x1="595.45" y1="422.2" x2="595.45" y2="424" stroke="#1a1a1a" stroke-width="0.7" />
<line x1="595.45" y1="438.3" x2="595.45" y2="436.5" stroke="#1a1a1a" stroke-width="0.7" />
<text x="593.8" y="434" font-size="10" text-anchor="middle" fill="#1a1a1a" font-weight="normal" font-style="normal" font-family='"Liberation Sans", sans-serif' >ASD (m)</text>
<text x="536.8" y="451" font-size="10" text-anchor="middle" fill="#262626" font-weight="normal" font-style="normal" font-family='"Liberation Sans", sans-serif' >0</text>
<text x="594.6" y="451" font-size="10" text-anchor="middle" fill="#262626" font-weight="normal" font-style="normal" font-family='"Liberation Sans", sans-serif' >0.5</text>
<text x="653.2" y="451" font-size="10" text-anchor="middle" fill="#262626" font-weight="normal" font-style="normal" font-family='"Liberation Sans", sans-serif' >1</text>
<line x1="414.4" y1="492.3" x2="414.4" y2="489.8" stroke="#262626" stroke-width="0.8" />
<line x1="414.4" y1="170.7" x2="414.4" y2="173.2" stroke="#262626" stroke-width="0.8" />
<line x1="470.9" y1="492.3" x2="470.9" y2="489.8" stroke="#262626" stroke-width="0.8" />
<line x1="470.9" y1="170.7" x2="470.9" y2="173.2" stroke="#262626" stroke-width="0.8" />
<line x1="527.4" y1="492.3" x2="527.4" y2="489.8" stroke="#262626" stroke-width="0.8" />
<line x1="527.4" y1="170.7" x2="527.4" y2="173.2" stroke="#262626" stroke-width="0.8" />
<line x1="583.9" y1="492.3" x2="583.9" y2="489.8" stroke="#262626" stroke-width="0.8" />
<line x1="583.9" y1="170.7" x2="583.9" y2="173.2" stroke="#262626" stroke-width="0.8" />
<line x1="640.4" y1="492.3" x2="640.4" y2="489.8" stroke="#262626" stroke-width="0.8" />
<line x1="640.4" y1="170.7" x2="640.4" y2="173.2" stroke="#262626" stroke-width="0.8" />
<line x1="361.6" y1="432.8" x2="364.1" y2="432.8" stroke="#262626" stroke-width="0.8" />
<line x1="672.5" y1="432.8" x2="670" y2="432.8" stroke="#262626" stroke-width="0.8" />
<line x1="361.6" y1="361.6" x2="364.1" y2="361.6" stroke="#262626" stroke-width="0.8" />
<line x1="672.5" y1="361.6" x2="670" y2="361.6" stroke="#262626" stroke-width="0.8" />
<line x1="361.6" y1="290.4" x2="364.1" y2="290.4" stroke="#262626" stroke-width="0.8" />
<line x1="672.5" y1="290.4" x2="670" y2="290.4" stroke="#262626" stroke-width="0.8" />
<line x1="361.6" y1="219.2" x2="364.1" y2="219.2" stroke="#262626" stroke-width="0.8" />
<line x1="672.5" y1="219.2" x2="670" y2="219.2" stroke="#262626" stroke-width="0.8" />
<rect x="361.6" y="170.7" width="310.9" height="321.6" fill="none" stroke="#262626" stroke-width="0.9"/>
<text x="368.6" y="184.8" font-size="13" text-anchor="start" fill="#000" font-weight="bold" font-style="normal" font-family='"Liberation Sans", sans-serif' >e</text>
<text x="414.4" y="504.6" font-size="10" text-anchor="middle" fill="#262626" font-weight="normal" font-style="normal" font-family='"Liberation Sans", sans-serif' >36.5<tspan dx="3.4" font-size="6.6" dy="-3.6">o</tspan><tspan dx="1.2" dy="3.6">E</tspan></text>
<text x="470.9" y="504.6" font-size="10" text-anchor="middle" fill="#262626" font-weight="normal" font-style="normal" font-family='"Liberation Sans", sans-serif' >37<tspan dx="3.4" font-size="6.6" dy="-3.6">o</tspan><tspan dx="1.2" dy="3.6">E</tspan></text>
<text x="527.4" y="504.6" font-size="10" text-anchor="middle" fill="#262626" font-weight="normal" font-style="normal" font-family='"Liberation Sans", sans-serif' >37.5<tspan dx="3.4" font-size="6.6" dy="-3.6">o</tspan><tspan dx="1.2" dy="3.6">E</tspan></text>
<text x="583.9" y="504.6" font-size="10" text-anchor="middle" fill="#262626" font-weight="normal" font-style="normal" font-family='"Liberation Sans", sans-serif' >38<tspan dx="3.4" font-size="6.6" dy="-3.6">o</tspan><tspan dx="1.2" dy="3.6">E</tspan></text>
<text x="640.4" y="504.6" font-size="10" text-anchor="middle" fill="#262626" font-weight="normal" font-style="normal" font-family='"Liberation Sans", sans-serif' >38.5<tspan dx="3.4" font-size="6.6" dy="-3.6">o</tspan><tspan dx="1.2" dy="3.6">E</tspan></text>
<text x="684" y="432.8" font-size="10" text-anchor="middle" fill="#262626" font-weight="normal" font-style="normal" font-family='"Liberation Sans", sans-serif' transform="rotate(-90 684 432.8)" >36.5<tspan dx="3.4" font-size="6.6" dy="-3.6">o</tspan><tspan dx="1.2" dy="3.6">N</tspan></text>
<text x="684" y="361.6" font-size="10" text-anchor="middle" fill="#262626" font-weight="normal" font-style="normal" font-family='"Liberation Sans", sans-serif' transform="rotate(-90 684 361.6)" >37<tspan dx="3.4" font-size="6.6" dy="-3.6">o</tspan><tspan dx="1.2" dy="3.6">N</tspan></text>
<text x="684" y="290.4" font-size="10" text-anchor="middle" fill="#262626" font-weight="normal" font-style="normal" font-family='"Liberation Sans", sans-serif' transform="rotate(-90 684 290.4)" >37.5<tspan dx="3.4" font-size="6.6" dy="-3.6">o</tspan><tspan dx="1.2" dy="3.6">N</tspan></text>
<text x="684" y="219.2" font-size="10" text-anchor="middle" fill="#262626" font-weight="normal" font-style="normal" font-family='"Liberation Sans", sans-serif' transform="rotate(-90 684 219.2)" >38<tspan dx="3.4" font-size="6.6" dy="-3.6">o</tspan><tspan dx="1.2" dy="3.6">N</tspan></text>
</svg>
</body></html>
